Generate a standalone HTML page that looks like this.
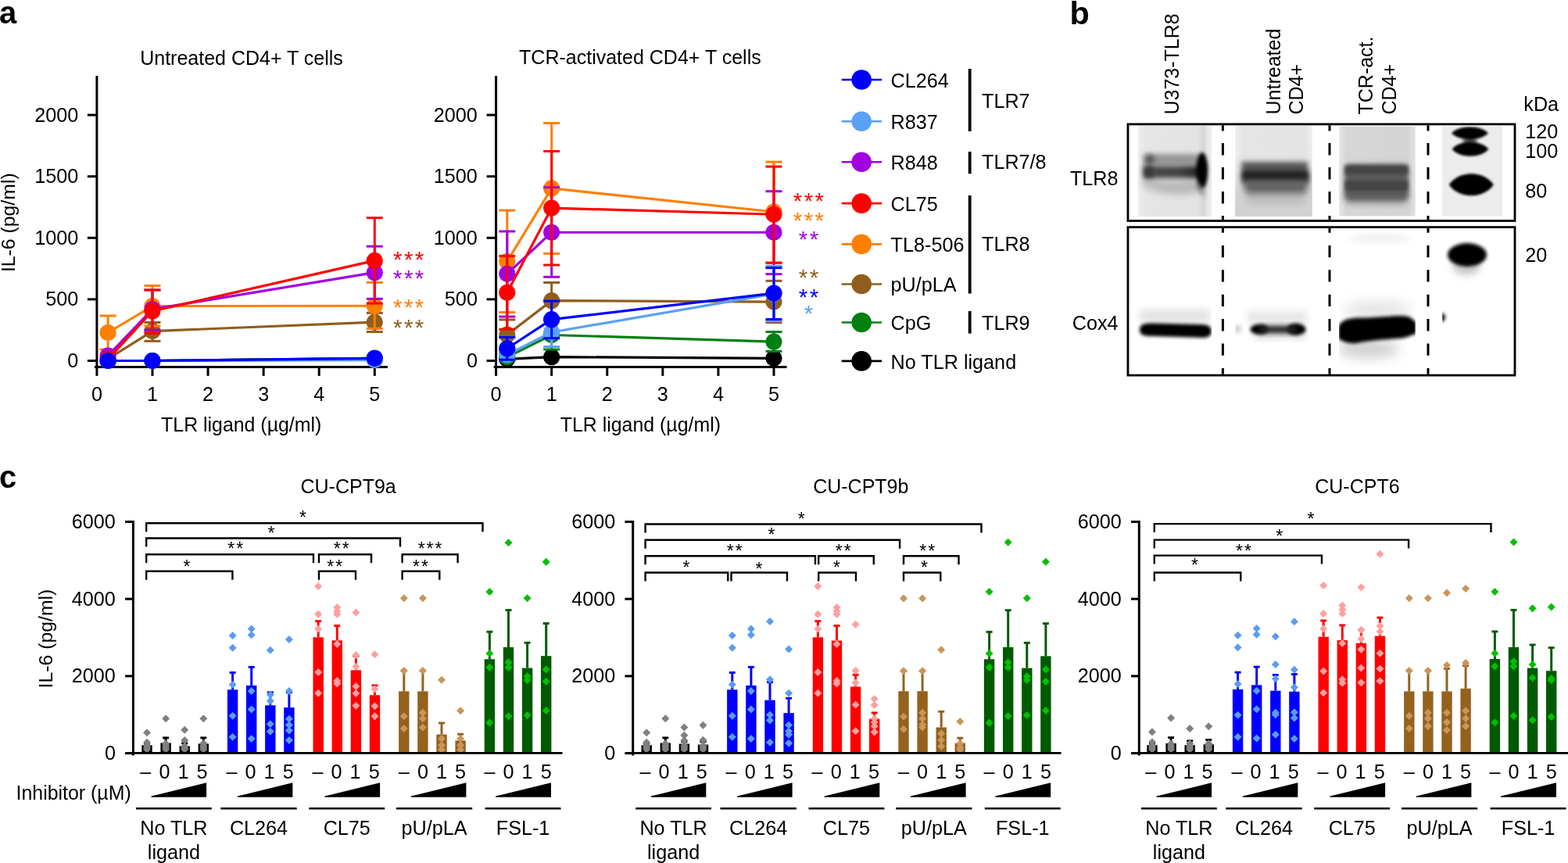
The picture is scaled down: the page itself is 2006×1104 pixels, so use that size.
<!DOCTYPE html>
<html><head><meta charset="utf-8"><title>Figure</title><style>html,body{margin:0;padding:0;background:#fff;width:2006px;height:1104px;overflow:hidden}svg{display:block}</style></head><body>
<svg width="2006" height="1104" viewBox="0 0 2006 1104" font-family="'Liberation Sans', Arial, Helvetica, sans-serif"><defs>
<filter id="bl2" x="-50%" y="-50%" width="200%" height="200%"><feGaussianBlur stdDeviation="2"/></filter>
<filter id="bl15" x="-50%" y="-50%" width="200%" height="200%"><feGaussianBlur stdDeviation="1.5"/></filter>
<filter id="bl3" x="-50%" y="-50%" width="200%" height="200%"><feGaussianBlur stdDeviation="3"/></filter>
<filter id="bl5" x="-50%" y="-50%" width="200%" height="200%"><feGaussianBlur stdDeviation="5"/></filter>
<filter id="bl8" x="-50%" y="-50%" width="200%" height="200%"><feGaussianBlur stdDeviation="8"/></filter>
<clipPath id="cl1"><rect x="1455.8" y="161" width="94.4" height="116"/></clipPath>
<clipPath id="cl2"><rect x="1580.2" y="161" width="98.6" height="116"/></clipPath>
<clipPath id="cl3"><rect x="1713.1" y="161.7" width="97.7" height="114.7"/></clipPath>
<clipPath id="cl4"><rect x="1845.3" y="161.5" width="76.7" height="115"/></clipPath>
<clipPath id="cb1"><rect x="1444.5" y="292" width="105.7" height="186.6"/></clipPath>
<clipPath id="cb2"><rect x="1580.2" y="292" width="98.6" height="186.6"/></clipPath>
<clipPath id="cb3"><rect x="1713.1" y="292" width="97.7" height="186.6"/></clipPath>
<clipPath id="cb4"><rect x="1845.3" y="292" width="76.7" height="186.6"/></clipPath>
<linearGradient id="lg1" x1="0" x2="1" y1="0" y2="0"><stop offset="0" stop-color="#efefef"/><stop offset="0.1" stop-color="#e5e5e5"/><stop offset="0.9" stop-color="#e3e3e3"/><stop offset="1" stop-color="#eeeeee"/></linearGradient>
<linearGradient id="lg3" x1="0" x2="1" y1="0" y2="0"><stop offset="0" stop-color="#e6e6e6"/><stop offset="0.1" stop-color="#d6d6d6"/><stop offset="0.9" stop-color="#d4d4d4"/><stop offset="1" stop-color="#e4e4e4"/></linearGradient>
<linearGradient id="lg2v" x1="0" x2="0" y1="0" y2="1"><stop offset="0" stop-color="#e0e0e0" stop-opacity="0"/><stop offset="0.6" stop-color="#d4d4d4"/><stop offset="1" stop-color="#d0d0d0"/></linearGradient>
<linearGradient id="lg1b" x1="0" x2="1" y1="0" y2="0"><stop offset="0" stop-color="#4a4a4a"/><stop offset="0.6" stop-color="#444"/><stop offset="1" stop-color="#222"/></linearGradient>
<filter id="bl4" x="-50%" y="-50%" width="200%" height="200%"><feGaussianBlur stdDeviation="4"/></filter>
</defs><rect width="2006" height="1104" fill="#fff"/><text x="-1" y="30" font-size="40" font-weight="bold">a</text>
<text x="1368.4" y="30.6" font-size="41.5" font-weight="bold">b</text>
<text x="-1" y="624.2" font-size="40" font-weight="bold">c</text>
<line x1="123.9" y1="97" x2="123.9" y2="470.9" stroke="#000" stroke-width="3" stroke-linecap="butt"/>
<line x1="120.9" y1="469.4" x2="495.9" y2="469.4" stroke="#000" stroke-width="3" stroke-linecap="butt"/>
<line x1="123.9" y1="469.4" x2="123.9" y2="480.9" stroke="#000" stroke-width="3" stroke-linecap="butt"/>
<text x="123.9" y="512.9" font-size="25.2" text-anchor="middle">0</text>
<line x1="194.98" y1="469.4" x2="194.98" y2="480.9" stroke="#000" stroke-width="3" stroke-linecap="butt"/>
<text x="194.98" y="512.9" font-size="25.2" text-anchor="middle">1</text>
<line x1="266.06" y1="469.4" x2="266.06" y2="480.9" stroke="#000" stroke-width="3" stroke-linecap="butt"/>
<text x="266.06" y="512.9" font-size="25.2" text-anchor="middle">2</text>
<line x1="337.14" y1="469.4" x2="337.14" y2="480.9" stroke="#000" stroke-width="3" stroke-linecap="butt"/>
<text x="337.14" y="512.9" font-size="25.2" text-anchor="middle">3</text>
<line x1="408.22" y1="469.4" x2="408.22" y2="480.9" stroke="#000" stroke-width="3" stroke-linecap="butt"/>
<text x="408.22" y="512.9" font-size="25.2" text-anchor="middle">4</text>
<line x1="479.3" y1="469.4" x2="479.3" y2="480.9" stroke="#000" stroke-width="3" stroke-linecap="butt"/>
<text x="479.3" y="512.9" font-size="25.2" text-anchor="middle">5</text>
<line x1="111.9" y1="461.5" x2="123.9" y2="461.5" stroke="#000" stroke-width="3" stroke-linecap="butt"/>
<text x="100.2" y="469.9" font-size="25.2" text-anchor="end">0</text>
<line x1="111.9" y1="382.9" x2="123.9" y2="382.9" stroke="#000" stroke-width="3" stroke-linecap="butt"/>
<text x="100.2" y="391.3" font-size="25.2" text-anchor="end">500</text>
<line x1="111.9" y1="304.3" x2="123.9" y2="304.3" stroke="#000" stroke-width="3" stroke-linecap="butt"/>
<text x="100.2" y="312.7" font-size="25.2" text-anchor="end">1000</text>
<line x1="111.9" y1="225.7" x2="123.9" y2="225.7" stroke="#000" stroke-width="3" stroke-linecap="butt"/>
<text x="100.2" y="234.1" font-size="25.2" text-anchor="end">1500</text>
<line x1="111.9" y1="147.1" x2="123.9" y2="147.1" stroke="#000" stroke-width="3" stroke-linecap="butt"/>
<text x="100.2" y="155.5" font-size="25.2" text-anchor="end">2000</text>
<text x="309" y="82.6" font-size="25" text-anchor="middle">Untreated CD4+ T cells</text>
<text x="308.7" y="551.6" font-size="24.9" text-anchor="middle">TLR ligand (µg/ml)</text>
<polyline points="138.12,461.5 194.98,461.5 479.3,458.36" stroke="#000000" stroke-width="3.2" fill="none" stroke-linejoin="round"/>
<circle cx="138.12" cy="461.5" r="10.6" fill="#000000"/>
<circle cx="194.98" cy="461.5" r="10.6" fill="#000000"/>
<circle cx="479.3" cy="458.36" r="10.6" fill="#000000"/>
<polyline points="138.12,461.5 194.98,461.5 479.3,458.36" stroke="#008010" stroke-width="3.2" fill="none" stroke-linejoin="round"/>
<circle cx="138.12" cy="461.5" r="10.6" fill="#008010"/>
<circle cx="194.98" cy="461.5" r="10.6" fill="#008010"/>
<circle cx="479.3" cy="458.36" r="10.6" fill="#008010"/>
<polyline points="138.12,459.14 194.98,423.61 479.3,412.14" stroke="#8f5e1e" stroke-width="3.2" fill="none" stroke-linejoin="round"/>
<line x1="194.98" y1="412.45" x2="194.98" y2="436.35" stroke="#8f5e1e" stroke-width="3" stroke-linecap="butt"/>
<line x1="184.48" y1="412.45" x2="205.48" y2="412.45" stroke="#8f5e1e" stroke-width="3" stroke-linecap="butt"/>
<line x1="184.48" y1="436.35" x2="205.48" y2="436.35" stroke="#8f5e1e" stroke-width="3" stroke-linecap="butt"/>
<line x1="479.3" y1="400.35" x2="479.3" y2="424.56" stroke="#8f5e1e" stroke-width="3" stroke-linecap="butt"/>
<line x1="468.8" y1="400.35" x2="489.8" y2="400.35" stroke="#8f5e1e" stroke-width="3" stroke-linecap="butt"/>
<line x1="468.8" y1="424.56" x2="489.8" y2="424.56" stroke="#8f5e1e" stroke-width="3" stroke-linecap="butt"/>
<circle cx="138.12" cy="459.14" r="10.6" fill="#8f5e1e"/>
<circle cx="194.98" cy="423.61" r="10.6" fill="#8f5e1e"/>
<circle cx="479.3" cy="412.14" r="10.6" fill="#8f5e1e"/>
<polyline points="138.12,425.5 194.98,391.55 479.3,391.23" stroke="#ff7f00" stroke-width="3.2" fill="none" stroke-linejoin="round"/>
<line x1="138.12" y1="403.96" x2="138.12" y2="447.04" stroke="#ff7f00" stroke-width="3" stroke-linecap="butt"/>
<line x1="127.62" y1="403.96" x2="148.62" y2="403.96" stroke="#ff7f00" stroke-width="3" stroke-linecap="butt"/>
<line x1="127.62" y1="447.04" x2="148.62" y2="447.04" stroke="#ff7f00" stroke-width="3" stroke-linecap="butt"/>
<line x1="194.98" y1="365.45" x2="194.98" y2="417.01" stroke="#ff7f00" stroke-width="3" stroke-linecap="butt"/>
<line x1="184.48" y1="365.45" x2="205.48" y2="365.45" stroke="#ff7f00" stroke-width="3" stroke-linecap="butt"/>
<line x1="184.48" y1="417.01" x2="205.48" y2="417.01" stroke="#ff7f00" stroke-width="3" stroke-linecap="butt"/>
<line x1="479.3" y1="361.36" x2="479.3" y2="420.31" stroke="#ff7f00" stroke-width="3" stroke-linecap="butt"/>
<line x1="468.8" y1="361.36" x2="489.8" y2="361.36" stroke="#ff7f00" stroke-width="3" stroke-linecap="butt"/>
<line x1="468.8" y1="420.31" x2="489.8" y2="420.31" stroke="#ff7f00" stroke-width="3" stroke-linecap="butt"/>
<circle cx="138.12" cy="425.5" r="10.6" fill="#ff7f00"/>
<circle cx="194.98" cy="391.55" r="10.6" fill="#ff7f00"/>
<circle cx="479.3" cy="391.23" r="10.6" fill="#ff7f00"/>
<polyline points="138.12,455.21 194.98,395.48 479.3,348.63" stroke="#a300e0" stroke-width="3.2" fill="none" stroke-linejoin="round"/>
<line x1="194.98" y1="370.95" x2="194.98" y2="422.2" stroke="#a300e0" stroke-width="3" stroke-linecap="butt"/>
<line x1="184.48" y1="370.95" x2="205.48" y2="370.95" stroke="#a300e0" stroke-width="3" stroke-linecap="butt"/>
<line x1="184.48" y1="422.2" x2="205.48" y2="422.2" stroke="#a300e0" stroke-width="3" stroke-linecap="butt"/>
<line x1="479.3" y1="315.15" x2="479.3" y2="382.27" stroke="#a300e0" stroke-width="3" stroke-linecap="butt"/>
<line x1="468.8" y1="315.15" x2="489.8" y2="315.15" stroke="#a300e0" stroke-width="3" stroke-linecap="butt"/>
<line x1="468.8" y1="382.27" x2="489.8" y2="382.27" stroke="#a300e0" stroke-width="3" stroke-linecap="butt"/>
<circle cx="138.12" cy="455.21" r="10.6" fill="#a300e0"/>
<circle cx="194.98" cy="395.48" r="10.6" fill="#a300e0"/>
<circle cx="479.3" cy="348.63" r="10.6" fill="#a300e0"/>
<polyline points="138.12,459.61 194.98,397.99 479.3,333.38" stroke="#ff0000" stroke-width="3.2" fill="none" stroke-linejoin="round"/>
<line x1="194.98" y1="370.95" x2="194.98" y2="426.29" stroke="#ff0000" stroke-width="3" stroke-linecap="butt"/>
<line x1="184.48" y1="370.95" x2="205.48" y2="370.95" stroke="#ff0000" stroke-width="3" stroke-linecap="butt"/>
<line x1="184.48" y1="426.29" x2="205.48" y2="426.29" stroke="#ff0000" stroke-width="3" stroke-linecap="butt"/>
<line x1="479.3" y1="278.68" x2="479.3" y2="388.09" stroke="#ff0000" stroke-width="3" stroke-linecap="butt"/>
<line x1="468.8" y1="278.68" x2="489.8" y2="278.68" stroke="#ff0000" stroke-width="3" stroke-linecap="butt"/>
<line x1="468.8" y1="388.09" x2="489.8" y2="388.09" stroke="#ff0000" stroke-width="3" stroke-linecap="butt"/>
<circle cx="138.12" cy="459.61" r="10.6" fill="#ff0000"/>
<circle cx="194.98" cy="397.99" r="10.6" fill="#ff0000"/>
<circle cx="479.3" cy="333.38" r="10.6" fill="#ff0000"/>
<polyline points="138.12,461.5 194.98,461.5 479.3,460.56" stroke="#5aa0f5" stroke-width="3.2" fill="none" stroke-linejoin="round"/>
<circle cx="138.12" cy="461.5" r="10.6" fill="#5aa0f5"/>
<circle cx="194.98" cy="461.5" r="10.6" fill="#5aa0f5"/>
<circle cx="479.3" cy="460.56" r="10.6" fill="#5aa0f5"/>
<polyline points="138.12,461.5 194.98,461.5 479.3,458.36" stroke="#0000ff" stroke-width="3.2" fill="none" stroke-linejoin="round"/>
<circle cx="138.12" cy="461.5" r="10.6" fill="#0000ff"/>
<circle cx="194.98" cy="461.5" r="10.6" fill="#0000ff"/>
<circle cx="479.3" cy="458.36" r="10.6" fill="#0000ff"/>
<line x1="634.6" y1="97" x2="634.6" y2="470.9" stroke="#000" stroke-width="3" stroke-linecap="butt"/>
<line x1="631.6" y1="469.4" x2="1006.6" y2="469.4" stroke="#000" stroke-width="3" stroke-linecap="butt"/>
<line x1="634.6" y1="469.4" x2="634.6" y2="480.9" stroke="#000" stroke-width="3" stroke-linecap="butt"/>
<text x="634.6" y="512.9" font-size="25.2" text-anchor="middle">0</text>
<line x1="705.68" y1="469.4" x2="705.68" y2="480.9" stroke="#000" stroke-width="3" stroke-linecap="butt"/>
<text x="705.68" y="512.9" font-size="25.2" text-anchor="middle">1</text>
<line x1="776.76" y1="469.4" x2="776.76" y2="480.9" stroke="#000" stroke-width="3" stroke-linecap="butt"/>
<text x="776.76" y="512.9" font-size="25.2" text-anchor="middle">2</text>
<line x1="847.84" y1="469.4" x2="847.84" y2="480.9" stroke="#000" stroke-width="3" stroke-linecap="butt"/>
<text x="847.84" y="512.9" font-size="25.2" text-anchor="middle">3</text>
<line x1="918.92" y1="469.4" x2="918.92" y2="480.9" stroke="#000" stroke-width="3" stroke-linecap="butt"/>
<text x="918.92" y="512.9" font-size="25.2" text-anchor="middle">4</text>
<line x1="990" y1="469.4" x2="990" y2="480.9" stroke="#000" stroke-width="3" stroke-linecap="butt"/>
<text x="990" y="512.9" font-size="25.2" text-anchor="middle">5</text>
<line x1="622.6" y1="461.5" x2="634.6" y2="461.5" stroke="#000" stroke-width="3" stroke-linecap="butt"/>
<text x="610.9" y="469.9" font-size="25.2" text-anchor="end">0</text>
<line x1="622.6" y1="382.9" x2="634.6" y2="382.9" stroke="#000" stroke-width="3" stroke-linecap="butt"/>
<text x="610.9" y="391.3" font-size="25.2" text-anchor="end">500</text>
<line x1="622.6" y1="304.3" x2="634.6" y2="304.3" stroke="#000" stroke-width="3" stroke-linecap="butt"/>
<text x="610.9" y="312.7" font-size="25.2" text-anchor="end">1000</text>
<line x1="622.6" y1="225.7" x2="634.6" y2="225.7" stroke="#000" stroke-width="3" stroke-linecap="butt"/>
<text x="610.9" y="234.1" font-size="25.2" text-anchor="end">1500</text>
<line x1="622.6" y1="147.1" x2="634.6" y2="147.1" stroke="#000" stroke-width="3" stroke-linecap="butt"/>
<text x="610.9" y="155.5" font-size="25.2" text-anchor="end">2000</text>
<text x="818.9" y="81.5" font-size="25" text-anchor="middle">TCR-activated CD4+ T cells</text>
<text x="819.4" y="551.6" font-size="24.9" text-anchor="middle">TLR ligand (µg/ml)</text>
<polyline points="648.82,459.3 705.68,456.63 990,458.36" stroke="#000000" stroke-width="3.2" fill="none" stroke-linejoin="round"/>
<circle cx="648.82" cy="459.3" r="10.6" fill="#000000"/>
<circle cx="705.68" cy="456.63" r="10.6" fill="#000000"/>
<circle cx="990" cy="458.36" r="10.6" fill="#000000"/>
<polyline points="648.82,456.78 705.68,428.49 990,437.13" stroke="#008010" stroke-width="3.2" fill="none" stroke-linejoin="round"/>
<line x1="648.82" y1="452.07" x2="648.82" y2="460.71" stroke="#008010" stroke-width="3" stroke-linecap="butt"/>
<line x1="638.32" y1="452.07" x2="659.32" y2="452.07" stroke="#008010" stroke-width="3" stroke-linecap="butt"/>
<line x1="638.32" y1="460.71" x2="659.32" y2="460.71" stroke="#008010" stroke-width="3" stroke-linecap="butt"/>
<line x1="705.68" y1="409.62" x2="705.68" y2="447.04" stroke="#008010" stroke-width="3" stroke-linecap="butt"/>
<line x1="695.18" y1="409.62" x2="716.18" y2="409.62" stroke="#008010" stroke-width="3" stroke-linecap="butt"/>
<line x1="695.18" y1="447.04" x2="716.18" y2="447.04" stroke="#008010" stroke-width="3" stroke-linecap="butt"/>
<line x1="990" y1="424.56" x2="990" y2="449.4" stroke="#008010" stroke-width="3" stroke-linecap="butt"/>
<line x1="979.5" y1="424.56" x2="1000.5" y2="424.56" stroke="#008010" stroke-width="3" stroke-linecap="butt"/>
<line x1="979.5" y1="449.4" x2="1000.5" y2="449.4" stroke="#008010" stroke-width="3" stroke-linecap="butt"/>
<circle cx="648.82" cy="456.78" r="10.6" fill="#008010"/>
<circle cx="705.68" cy="428.49" r="10.6" fill="#008010"/>
<circle cx="990" cy="437.13" r="10.6" fill="#008010"/>
<polyline points="648.82,428.17 705.68,384.63 990,386.04" stroke="#8f5e1e" stroke-width="3.2" fill="none" stroke-linejoin="round"/>
<line x1="648.82" y1="409" x2="648.82" y2="447.35" stroke="#8f5e1e" stroke-width="3" stroke-linecap="butt"/>
<line x1="638.32" y1="409" x2="659.32" y2="409" stroke="#8f5e1e" stroke-width="3" stroke-linecap="butt"/>
<line x1="638.32" y1="447.35" x2="659.32" y2="447.35" stroke="#8f5e1e" stroke-width="3" stroke-linecap="butt"/>
<line x1="705.68" y1="361.52" x2="705.68" y2="407.74" stroke="#8f5e1e" stroke-width="3" stroke-linecap="butt"/>
<line x1="695.18" y1="361.52" x2="716.18" y2="361.52" stroke="#8f5e1e" stroke-width="3" stroke-linecap="butt"/>
<line x1="695.18" y1="407.74" x2="716.18" y2="407.74" stroke="#8f5e1e" stroke-width="3" stroke-linecap="butt"/>
<line x1="990" y1="359.32" x2="990" y2="412.61" stroke="#8f5e1e" stroke-width="3" stroke-linecap="butt"/>
<line x1="979.5" y1="359.32" x2="1000.5" y2="359.32" stroke="#8f5e1e" stroke-width="3" stroke-linecap="butt"/>
<line x1="979.5" y1="412.61" x2="1000.5" y2="412.61" stroke="#8f5e1e" stroke-width="3" stroke-linecap="butt"/>
<circle cx="648.82" cy="428.17" r="10.6" fill="#8f5e1e"/>
<circle cx="705.68" cy="384.63" r="10.6" fill="#8f5e1e"/>
<circle cx="990" cy="386.04" r="10.6" fill="#8f5e1e"/>
<polyline points="648.82,334.33 705.68,240.95 990,270.97" stroke="#ff7f00" stroke-width="3.2" fill="none" stroke-linejoin="round"/>
<line x1="648.82" y1="269.09" x2="648.82" y2="399.56" stroke="#ff7f00" stroke-width="3" stroke-linecap="butt"/>
<line x1="638.32" y1="269.09" x2="659.32" y2="269.09" stroke="#ff7f00" stroke-width="3" stroke-linecap="butt"/>
<line x1="638.32" y1="399.56" x2="659.32" y2="399.56" stroke="#ff7f00" stroke-width="3" stroke-linecap="butt"/>
<line x1="705.68" y1="157.48" x2="705.68" y2="324.42" stroke="#ff7f00" stroke-width="3" stroke-linecap="butt"/>
<line x1="695.18" y1="157.48" x2="716.18" y2="157.48" stroke="#ff7f00" stroke-width="3" stroke-linecap="butt"/>
<line x1="695.18" y1="324.42" x2="716.18" y2="324.42" stroke="#ff7f00" stroke-width="3" stroke-linecap="butt"/>
<line x1="990" y1="207.15" x2="990" y2="336.21" stroke="#ff7f00" stroke-width="3" stroke-linecap="butt"/>
<line x1="979.5" y1="207.15" x2="1000.5" y2="207.15" stroke="#ff7f00" stroke-width="3" stroke-linecap="butt"/>
<line x1="979.5" y1="336.21" x2="1000.5" y2="336.21" stroke="#ff7f00" stroke-width="3" stroke-linecap="butt"/>
<circle cx="648.82" cy="334.33" r="10.6" fill="#ff7f00"/>
<circle cx="705.68" cy="240.95" r="10.6" fill="#ff7f00"/>
<circle cx="990" cy="270.97" r="10.6" fill="#ff7f00"/>
<polyline points="648.82,350.36 705.68,297.23 990,297.23" stroke="#a300e0" stroke-width="3.2" fill="none" stroke-linejoin="round"/>
<line x1="648.82" y1="295.97" x2="648.82" y2="405.07" stroke="#a300e0" stroke-width="3" stroke-linecap="butt"/>
<line x1="638.32" y1="295.97" x2="659.32" y2="295.97" stroke="#a300e0" stroke-width="3" stroke-linecap="butt"/>
<line x1="638.32" y1="405.07" x2="659.32" y2="405.07" stroke="#a300e0" stroke-width="3" stroke-linecap="butt"/>
<line x1="705.68" y1="239.69" x2="705.68" y2="354.29" stroke="#a300e0" stroke-width="3" stroke-linecap="butt"/>
<line x1="695.18" y1="239.69" x2="716.18" y2="239.69" stroke="#a300e0" stroke-width="3" stroke-linecap="butt"/>
<line x1="695.18" y1="354.29" x2="716.18" y2="354.29" stroke="#a300e0" stroke-width="3" stroke-linecap="butt"/>
<line x1="990" y1="244.72" x2="990" y2="350.67" stroke="#a300e0" stroke-width="3" stroke-linecap="butt"/>
<line x1="979.5" y1="244.72" x2="1000.5" y2="244.72" stroke="#a300e0" stroke-width="3" stroke-linecap="butt"/>
<line x1="979.5" y1="350.67" x2="1000.5" y2="350.67" stroke="#a300e0" stroke-width="3" stroke-linecap="butt"/>
<circle cx="648.82" cy="350.36" r="10.6" fill="#a300e0"/>
<circle cx="705.68" cy="297.23" r="10.6" fill="#a300e0"/>
<circle cx="990" cy="297.23" r="10.6" fill="#a300e0"/>
<polyline points="648.82,374.25 705.68,266.1 990,274.27" stroke="#ff0000" stroke-width="3.2" fill="none" stroke-linejoin="round"/>
<line x1="648.82" y1="327.57" x2="648.82" y2="421.26" stroke="#ff0000" stroke-width="3" stroke-linecap="butt"/>
<line x1="638.32" y1="327.57" x2="659.32" y2="327.57" stroke="#ff0000" stroke-width="3" stroke-linecap="butt"/>
<line x1="638.32" y1="421.26" x2="659.32" y2="421.26" stroke="#ff0000" stroke-width="3" stroke-linecap="butt"/>
<line x1="705.68" y1="193.47" x2="705.68" y2="339.04" stroke="#ff0000" stroke-width="3" stroke-linecap="butt"/>
<line x1="695.18" y1="193.47" x2="716.18" y2="193.47" stroke="#ff0000" stroke-width="3" stroke-linecap="butt"/>
<line x1="695.18" y1="339.04" x2="716.18" y2="339.04" stroke="#ff0000" stroke-width="3" stroke-linecap="butt"/>
<line x1="990" y1="213.12" x2="990" y2="336.21" stroke="#ff0000" stroke-width="3" stroke-linecap="butt"/>
<line x1="979.5" y1="213.12" x2="1000.5" y2="213.12" stroke="#ff0000" stroke-width="3" stroke-linecap="butt"/>
<line x1="979.5" y1="336.21" x2="1000.5" y2="336.21" stroke="#ff0000" stroke-width="3" stroke-linecap="butt"/>
<circle cx="648.82" cy="374.25" r="10.6" fill="#ff0000"/>
<circle cx="705.68" cy="266.1" r="10.6" fill="#ff0000"/>
<circle cx="990" cy="274.27" r="10.6" fill="#ff0000"/>
<polyline points="648.82,453.95 705.68,425.03 990,375.83" stroke="#5aa0f5" stroke-width="3.2" fill="none" stroke-linejoin="round"/>
<line x1="648.82" y1="446.41" x2="648.82" y2="460.71" stroke="#5aa0f5" stroke-width="3" stroke-linecap="butt"/>
<line x1="638.32" y1="446.41" x2="659.32" y2="446.41" stroke="#5aa0f5" stroke-width="3" stroke-linecap="butt"/>
<line x1="638.32" y1="460.71" x2="659.32" y2="460.71" stroke="#5aa0f5" stroke-width="3" stroke-linecap="butt"/>
<line x1="705.68" y1="406.48" x2="705.68" y2="443.58" stroke="#5aa0f5" stroke-width="3" stroke-linecap="butt"/>
<line x1="695.18" y1="406.48" x2="716.18" y2="406.48" stroke="#5aa0f5" stroke-width="3" stroke-linecap="butt"/>
<line x1="695.18" y1="443.58" x2="716.18" y2="443.58" stroke="#5aa0f5" stroke-width="3" stroke-linecap="butt"/>
<line x1="990" y1="340.3" x2="990" y2="410.57" stroke="#5aa0f5" stroke-width="3" stroke-linecap="butt"/>
<line x1="979.5" y1="340.3" x2="1000.5" y2="340.3" stroke="#5aa0f5" stroke-width="3" stroke-linecap="butt"/>
<line x1="979.5" y1="410.57" x2="1000.5" y2="410.57" stroke="#5aa0f5" stroke-width="3" stroke-linecap="butt"/>
<circle cx="648.82" cy="453.95" r="10.6" fill="#5aa0f5"/>
<circle cx="705.68" cy="425.03" r="10.6" fill="#5aa0f5"/>
<circle cx="990" cy="375.83" r="10.6" fill="#5aa0f5"/>
<polyline points="648.82,445.78 705.68,408.68 990,375.04" stroke="#0000ff" stroke-width="3.2" fill="none" stroke-linejoin="round"/>
<line x1="648.82" y1="431.47" x2="648.82" y2="460.24" stroke="#0000ff" stroke-width="3" stroke-linecap="butt"/>
<line x1="638.32" y1="431.47" x2="659.32" y2="431.47" stroke="#0000ff" stroke-width="3" stroke-linecap="butt"/>
<line x1="638.32" y1="460.24" x2="659.32" y2="460.24" stroke="#0000ff" stroke-width="3" stroke-linecap="butt"/>
<line x1="705.68" y1="385.1" x2="705.68" y2="432.73" stroke="#0000ff" stroke-width="3" stroke-linecap="butt"/>
<line x1="695.18" y1="385.1" x2="716.18" y2="385.1" stroke="#0000ff" stroke-width="3" stroke-linecap="butt"/>
<line x1="695.18" y1="432.73" x2="716.18" y2="432.73" stroke="#0000ff" stroke-width="3" stroke-linecap="butt"/>
<line x1="990" y1="342.66" x2="990" y2="408.52" stroke="#0000ff" stroke-width="3" stroke-linecap="butt"/>
<line x1="979.5" y1="342.66" x2="1000.5" y2="342.66" stroke="#0000ff" stroke-width="3" stroke-linecap="butt"/>
<line x1="979.5" y1="408.52" x2="1000.5" y2="408.52" stroke="#0000ff" stroke-width="3" stroke-linecap="butt"/>
<circle cx="648.82" cy="445.78" r="10.6" fill="#0000ff"/>
<circle cx="705.68" cy="408.68" r="10.6" fill="#0000ff"/>
<circle cx="990" cy="375.04" r="10.6" fill="#0000ff"/>
<text transform="translate(18.9,284.7) rotate(-90)" font-size="24.8" text-anchor="middle">IL-6 (pg/ml)</text>
<text x="523.9" y="342.2" font-size="29.5" text-anchor="middle" fill="#ff0000" letter-spacing="2.4">***</text>
<text x="523.9" y="366.1" font-size="29.5" text-anchor="middle" fill="#a300e0" letter-spacing="2.4">***</text>
<text x="523.9" y="403.2" font-size="29.5" text-anchor="middle" fill="#ff7f00" letter-spacing="2.4">***</text>
<text x="523.9" y="428.8" font-size="29.5" text-anchor="middle" fill="#8f5e1e" letter-spacing="2.4">***</text>
<text x="1035.7" y="267.2" font-size="29.5" text-anchor="middle" fill="#ff0000" letter-spacing="2.4">***</text>
<text x="1035.7" y="291.6" font-size="29.5" text-anchor="middle" fill="#ff7f00" letter-spacing="2.4">***</text>
<text x="1035.7" y="315.7" font-size="29.5" text-anchor="middle" fill="#a300e0" letter-spacing="2.4">**</text>
<text x="1035.7" y="365.4" font-size="29.5" text-anchor="middle" fill="#8f5e1e" letter-spacing="2.4">**</text>
<text x="1035.7" y="389.8" font-size="29.5" text-anchor="middle" fill="#0000ff" letter-spacing="2.4">**</text>
<text x="1035.7" y="411.3" font-size="29.5" text-anchor="middle" fill="#5aa0f5" letter-spacing="2.4">*</text>
<line x1="1076.7" y1="102" x2="1128.1" y2="102" stroke="#0000ff" stroke-width="2.6" stroke-linecap="butt"/>
<circle cx="1102.2" cy="102" r="12.8" fill="#0000ff"/>
<text x="1139.6" y="111.8" font-size="25.2">CL264</text>
<line x1="1076.7" y1="155.2" x2="1128.1" y2="155.2" stroke="#5aa0f5" stroke-width="2.6" stroke-linecap="butt"/>
<circle cx="1102.2" cy="155.2" r="12.8" fill="#5aa0f5"/>
<text x="1139.6" y="165" font-size="25.2">R837</text>
<line x1="1076.7" y1="207.3" x2="1128.1" y2="207.3" stroke="#a300e0" stroke-width="2.6" stroke-linecap="butt"/>
<circle cx="1102.2" cy="207.3" r="12.8" fill="#a300e0"/>
<text x="1139.6" y="217.1" font-size="25.2">R848</text>
<line x1="1076.7" y1="260.1" x2="1128.1" y2="260.1" stroke="#ff0000" stroke-width="2.6" stroke-linecap="butt"/>
<circle cx="1102.2" cy="260.1" r="12.8" fill="#ff0000"/>
<text x="1139.6" y="269.9" font-size="25.2">CL75</text>
<line x1="1076.7" y1="312.4" x2="1128.1" y2="312.4" stroke="#ff7f00" stroke-width="2.6" stroke-linecap="butt"/>
<circle cx="1102.2" cy="312.4" r="12.8" fill="#ff7f00"/>
<text x="1139.6" y="322.2" font-size="25.2">TL8-506</text>
<line x1="1076.7" y1="363.5" x2="1128.1" y2="363.5" stroke="#8f5e1e" stroke-width="2.6" stroke-linecap="butt"/>
<circle cx="1102.2" cy="363.5" r="12.8" fill="#8f5e1e"/>
<text x="1139.6" y="373.3" font-size="25.2">pU/pLA</text>
<line x1="1076.7" y1="412.5" x2="1128.1" y2="412.5" stroke="#008010" stroke-width="2.6" stroke-linecap="butt"/>
<circle cx="1102.2" cy="412.5" r="12.8" fill="#008010"/>
<text x="1139.6" y="422.3" font-size="25.2">CpG</text>
<line x1="1076.7" y1="461.9" x2="1128.1" y2="461.9" stroke="#000000" stroke-width="2.6" stroke-linecap="butt"/>
<circle cx="1102.2" cy="461.9" r="12.8" fill="#000000"/>
<text x="1139.6" y="471.7" font-size="25.2">No TLR ligand</text>
<line x1="1240.7" y1="88" x2="1240.7" y2="168" stroke="#000" stroke-width="3.8" stroke-linecap="butt"/>
<line x1="1240.7" y1="194" x2="1240.7" y2="222.2" stroke="#000" stroke-width="3.8" stroke-linecap="butt"/>
<line x1="1240.7" y1="250" x2="1240.7" y2="375.5" stroke="#000" stroke-width="3.8" stroke-linecap="butt"/>
<line x1="1240.7" y1="397.9" x2="1240.7" y2="426.6" stroke="#000" stroke-width="3.8" stroke-linecap="butt"/>
<text x="1256" y="137.5" font-size="25.2">TLR7</text>
<text x="1256" y="216.1" font-size="25.2">TLR7/8</text>
<text x="1256" y="321.4" font-size="25.2">TLR8</text>
<text x="1256" y="421.9" font-size="25.2">TLR9</text>
<rect x="1455.8" y="161" width="94.4" height="116" fill="url(#lg1)"/>
<rect x="1580.2" y="161" width="98.6" height="116" fill="url(#lg1)"/>
<rect x="1713.1" y="161.7" width="97.7" height="114.7" fill="url(#lg3)"/>
<rect x="1845.3" y="161.5" width="76.7" height="115" fill="#ececec"/>
<g clip-path="url(#cl1)"><rect x="1536" y="161" width="6" height="116" fill="#d4d4d4" filter="url(#bl2)"/><path d="M1462,226 Q1500,238 1540,226 L1542,242 Q1500,258 1462,238 Z" fill="#b8b8b8" filter="url(#bl5)"/><rect x="1463" y="197" width="72" height="15" fill="#959595" filter="url(#bl3)"/><rect x="1463" y="212" width="74" height="16" fill="url(#lg1b)" filter="url(#bl3)"/><ellipse cx="1471" cy="204" rx="6" ry="6" fill="#555" filter="url(#bl3)"/><ellipse cx="1470" cy="220" rx="7" ry="7.5" fill="#3a3a3a" filter="url(#bl3)"/><ellipse cx="1537.8" cy="218" rx="7.5" ry="23" fill="#000" filter="url(#bl2)"/><path d="M1533,232 Q1540,244 1541,252 Q1536,248 1531,238 Z" fill="#666" filter="url(#bl3)"/></g>
<g clip-path="url(#cl2)"><rect x="1580" y="200" width="99" height="77" fill="url(#lg2v)"/><path d="M1592,240 L1672,240 L1668,262 L1596,262 Z" fill="#bcbcbc" filter="url(#bl5)"/><path d="M1588,207 L1673,207 L1674,236 L1590,236 Z" fill="#565656" filter="url(#bl3)"/><rect x="1589" y="219" width="85" height="12" fill="#1e1e1e" filter="url(#bl3)"/><path d="M1590,231 L1673,231 L1671,247 L1594,247 Z" fill="#5e5e5e" filter="url(#bl4)"/></g>
<g clip-path="url(#cl3)"><rect x="1722" y="245" width="78" height="16" fill="#9a9a9a" filter="url(#bl5)"/><rect x="1720" y="210" width="82" height="46" rx="6" fill="#5a5a5a" filter="url(#bl3)"/><rect x="1721" y="212" width="80" height="11" fill="#444" filter="url(#bl2)"/><rect x="1721" y="231" width="80" height="13" fill="#444" filter="url(#bl2)"/></g>
<g clip-path="url(#cl4)"><ellipse cx="1880.5" cy="180.5" rx="9" ry="5" fill="#444" filter="url(#bl2)"/><path d="M1857,170.3 C1867.34,159.63 1893.66,159.63 1904,170.3 C1893.66,180.97 1867.34,180.97 1857,170.3 Z" fill="#000" filter="url(#bl15)"/><path d="M1857.5,190.8 C1867.84,178.79 1894.16,178.79 1904.5,190.8 C1894.16,202.81 1867.84,202.81 1857.5,190.8 Z" fill="#000" filter="url(#bl15)"/><path d="M1853.8,236.3 C1866.34,217.62 1898.26,217.62 1910.8,236.3 C1898.26,254.98 1866.34,254.98 1853.8,236.3 Z" fill="#000" filter="url(#bl15)"/></g>
<g clip-path="url(#cb1)"><rect x="1458" y="396" width="90" height="16" fill="#e2e2e2" filter="url(#bl5)"/><path d="M1458,422 C1458,414.5 1464,413.5 1475,413.5 L1535,415 C1546,415 1550,418 1550,423.5 C1550,429.5 1546,432 1538,432 L1475,430 C1463,430 1458,428.5 1458,422 Z" fill="#000" filter="url(#bl2)"/></g>
<g clip-path="url(#cb2)"><rect x="1596" y="398" width="76" height="16" fill="#e6e6e6" filter="url(#bl5)"/><rect x="1604" y="426" width="66" height="8" fill="#e0e0e0" filter="url(#bl4)"/><ellipse cx="1611" cy="421.3" rx="11.5" ry="6.5" fill="#000" filter="url(#bl2)"/><ellipse cx="1658.5" cy="421.3" rx="12" ry="7.5" fill="#000" filter="url(#bl2)"/><rect x="1612" y="416.5" width="46" height="10" fill="#222" filter="url(#bl3)"/><ellipse cx="1583" cy="421" rx="5" ry="5" fill="#c8c8c8" filter="url(#bl3)"/></g>
<g clip-path="url(#cb3)"><ellipse cx="1762" cy="396" rx="45" ry="11" fill="#e4e4e4" filter="url(#bl8)"/><ellipse cx="1750" cy="446" rx="40" ry="12" fill="#cfcfcf" filter="url(#bl8)"/><path d="M1712,418 C1716,410 1722,407 1740,406.5 C1765,406 1785,403 1800,404.5 C1806,406 1808,410 1812,412 L1812,427 C1806,428 1802,432 1790,433 C1770,434 1750,436 1735,439 C1725,440 1718,437 1712,433 Z" fill="#000" filter="url(#bl2)"/><ellipse cx="1765" cy="305" rx="40" ry="6" fill="#f2f2f2" filter="url(#bl3)"/></g>
<g clip-path="url(#cb4)"><ellipse cx="1876" cy="340" rx="18" ry="12" fill="#c8c8c8" filter="url(#bl5)"/><ellipse cx="1877" cy="326" rx="25" ry="15" fill="#000" filter="url(#bl2)"/><ellipse cx="1842" cy="406" rx="7" ry="6" fill="#000" filter="url(#bl2)"/></g>
<rect x="1443" y="158.9" width="495" height="123.6" fill="none" stroke="#000" stroke-width="2.8"/>
<rect x="1443" y="290.6" width="495" height="189.5" fill="none" stroke="#000" stroke-width="2.8"/>
<line x1="1564.4" y1="160.3" x2="1564.4" y2="281.1" stroke="#000" stroke-width="3" stroke-dasharray="15.4 15.6" stroke-dashoffset="8.3"/>
<line x1="1564.4" y1="292" x2="1564.4" y2="478.7" stroke="#000" stroke-width="3" stroke-dasharray="15.3 16.1" stroke-dashoffset="9.5"/>
<line x1="1701" y1="160.3" x2="1701" y2="281.1" stroke="#000" stroke-width="3" stroke-dasharray="15.4 15.6" stroke-dashoffset="8.3"/>
<line x1="1701" y1="292" x2="1701" y2="478.7" stroke="#000" stroke-width="3" stroke-dasharray="15.3 16.1" stroke-dashoffset="9.5"/>
<line x1="1827" y1="160.3" x2="1827" y2="281.1" stroke="#000" stroke-width="3" stroke-dasharray="15.4 15.6" stroke-dashoffset="8.3"/>
<line x1="1827" y1="292" x2="1827" y2="478.7" stroke="#000" stroke-width="3" stroke-dasharray="15.3 16.1" stroke-dashoffset="9.5"/>
<text transform="translate(1508.3,146.5) rotate(-90)" font-size="25">U373-TLR8</text>
<text transform="translate(1637.8,146.5) rotate(-90)" font-size="25">Untreated</text>
<text transform="translate(1667.3,146.5) rotate(-90)" font-size="25">CD4+</text>
<text transform="translate(1756.1,146.5) rotate(-90)" font-size="25">TCR-act.</text>
<text transform="translate(1786,146.5) rotate(-90)" font-size="25">CD4+</text>
<text x="1949.3" y="142.2" font-size="25.2">kDa</text>
<text x="1951.2" y="176.5" font-size="25.2">120</text>
<text x="1951.2" y="202" font-size="25.2">100</text>
<text x="1951.2" y="252.5" font-size="25.2">80</text>
<text x="1951.2" y="334.7" font-size="25.2">20</text>
<text x="1430.5" y="237.4" font-size="25.2" text-anchor="end">TLR8</text>
<text x="1430.5" y="422.2" font-size="25.2" text-anchor="end">Cox4</text>
<line x1="188" y1="951.26" x2="188" y2="953.24" stroke="#000000" stroke-width="3" stroke-linecap="butt"/>
<line x1="184" y1="951.26" x2="192" y2="951.26" stroke="#000000" stroke-width="2.9" stroke-linecap="butt"/>
<rect x="181.3" y="953.24" width="13.4" height="10.36" fill="#000000" />
<polygon points="188,932.25 193,937.25 188,942.25 183,937.25" fill="#808080"/>
<polygon points="188,944.73 193,949.73 188,954.73 183,949.73" fill="#808080"/>
<polygon points="188,948.73 193,953.73 188,958.73 183,953.73" fill="#808080"/>
<polygon points="188,951.2 193,956.2 188,961.2 183,956.2" fill="#808080"/>
<polygon points="188,953.67 193,958.67 188,963.67 183,958.67" fill="#808080"/>
<line x1="212.1" y1="943.86" x2="212.1" y2="950.42" stroke="#000000" stroke-width="3" stroke-linecap="butt"/>
<line x1="208.1" y1="943.86" x2="216.1" y2="943.86" stroke="#000000" stroke-width="2.9" stroke-linecap="butt"/>
<rect x="205.4" y="950.42" width="13.4" height="13.18" fill="#000000" />
<polygon points="212.1,914.19 217.1,919.19 212.1,924.19 207.1,919.19" fill="#808080"/>
<polygon points="212.1,946.26 217.1,951.26 212.1,956.26 207.1,951.26" fill="#808080"/>
<polygon points="212.1,948.73 217.1,953.73 212.1,958.73 207.1,953.73" fill="#808080"/>
<polygon points="212.1,951.2 217.1,956.2 212.1,961.2 207.1,956.2" fill="#808080"/>
<polygon points="212.1,953.67 217.1,958.67 212.1,963.67 207.1,958.67" fill="#808080"/>
<line x1="236.2" y1="950.77" x2="236.2" y2="954.42" stroke="#000000" stroke-width="3" stroke-linecap="butt"/>
<line x1="232.2" y1="950.77" x2="240.2" y2="950.77" stroke="#000000" stroke-width="2.9" stroke-linecap="butt"/>
<rect x="229.5" y="954.42" width="13.4" height="9.18" fill="#000000" />
<polygon points="236.2,928.74 241.2,933.74 236.2,938.74 231.2,933.74" fill="#808080"/>
<polygon points="236.2,941.92 241.2,946.92 236.2,951.92 231.2,946.92" fill="#808080"/>
<polygon points="236.2,949.72 241.2,954.72 236.2,959.72 231.2,954.72" fill="#808080"/>
<polygon points="236.2,952.18 241.2,957.18 236.2,962.18 231.2,957.18" fill="#808080"/>
<polygon points="236.2,953.67 241.2,958.67 236.2,963.67 231.2,958.67" fill="#808080"/>
<line x1="260.3" y1="943.86" x2="260.3" y2="951.41" stroke="#000000" stroke-width="3" stroke-linecap="butt"/>
<line x1="256.3" y1="943.86" x2="264.3" y2="943.86" stroke="#000000" stroke-width="2.9" stroke-linecap="butt"/>
<rect x="253.6" y="951.41" width="13.4" height="12.19" fill="#000000" />
<polygon points="260.3,914.19 265.3,919.19 260.3,924.19 255.3,919.19" fill="#808080"/>
<polygon points="260.3,945.92 265.3,950.92 260.3,955.92 255.3,950.92" fill="#808080"/>
<polygon points="260.3,948.73 265.3,953.73 260.3,958.73 255.3,953.73" fill="#808080"/>
<polygon points="260.3,951.2 265.3,956.2 260.3,961.2 255.3,956.2" fill="#808080"/>
<polygon points="260.3,953.67 265.3,958.67 260.3,963.67 255.3,958.67" fill="#808080"/>
<line x1="297.6" y1="860.41" x2="297.6" y2="882.27" stroke="#0000ff" stroke-width="3" stroke-linecap="butt"/>
<line x1="293.6" y1="860.41" x2="301.6" y2="860.41" stroke="#0000ff" stroke-width="2.9" stroke-linecap="butt"/>
<rect x="290.9" y="882.27" width="13.4" height="81.33" fill="#0000ff" />
<polygon points="297.6,807.93 302.6,812.93 297.6,817.93 292.6,812.93" fill="#5a9cf0"/>
<polygon points="297.6,823.68 302.6,828.68 297.6,833.68 292.6,828.68" fill="#5a9cf0"/>
<polygon points="297.6,870.66 302.6,875.66 297.6,880.66 292.6,875.66" fill="#5a9cf0"/>
<polygon points="297.6,910.68 302.6,915.68 297.6,920.68 292.6,915.68" fill="#5a9cf0"/>
<polygon points="297.6,937.63 302.6,942.63 297.6,947.63 292.6,942.63" fill="#5a9cf0"/>
<line x1="321.7" y1="853.35" x2="321.7" y2="876.89" stroke="#0000ff" stroke-width="3" stroke-linecap="butt"/>
<line x1="317.7" y1="853.35" x2="325.7" y2="853.35" stroke="#0000ff" stroke-width="2.9" stroke-linecap="butt"/>
<rect x="315" y="876.89" width="13.4" height="86.71" fill="#0000ff" />
<polygon points="321.7,799.5 326.7,804.5 321.7,809.5 316.7,804.5" fill="#5a9cf0"/>
<polygon points="321.7,807.19 326.7,812.19 321.7,817.19 316.7,812.19" fill="#5a9cf0"/>
<polygon points="321.7,878.95 326.7,883.95 321.7,888.95 316.7,883.95" fill="#5a9cf0"/>
<polygon points="321.7,902.39 326.7,907.39 321.7,912.39 316.7,907.39" fill="#5a9cf0"/>
<polygon points="321.7,940.04 326.7,945.04 321.7,950.04 316.7,945.04" fill="#5a9cf0"/>
<line x1="345.8" y1="885.78" x2="345.8" y2="902.26" stroke="#0000ff" stroke-width="3" stroke-linecap="butt"/>
<line x1="341.8" y1="885.78" x2="349.8" y2="885.78" stroke="#0000ff" stroke-width="2.9" stroke-linecap="butt"/>
<rect x="339.1" y="902.26" width="13.4" height="61.34" fill="#0000ff" />
<polygon points="345.8,826.79 350.8,831.79 345.8,836.79 340.8,831.79" fill="#5a9cf0"/>
<polygon points="345.8,883.64 350.8,888.64 345.8,893.64 340.8,888.64" fill="#5a9cf0"/>
<polygon points="345.8,891.83 350.8,896.83 345.8,901.83 340.8,896.83" fill="#5a9cf0"/>
<polygon points="345.8,921.29 350.8,926.29 345.8,931.29 340.8,926.29" fill="#5a9cf0"/>
<polygon points="345.8,930.67 350.8,935.67 345.8,940.67 340.8,935.67" fill="#5a9cf0"/>
<line x1="369.9" y1="885.78" x2="369.9" y2="905.12" stroke="#0000ff" stroke-width="3" stroke-linecap="butt"/>
<line x1="365.9" y1="885.78" x2="373.9" y2="885.78" stroke="#0000ff" stroke-width="2.9" stroke-linecap="butt"/>
<rect x="363.2" y="905.12" width="13.4" height="58.48" fill="#0000ff" />
<polygon points="369.9,813.12 374.9,818.12 369.9,823.12 364.9,818.12" fill="#5a9cf0"/>
<polygon points="369.9,878.95 374.9,883.95 369.9,888.95 364.9,883.95" fill="#5a9cf0"/>
<polygon points="369.9,914.68 374.9,919.68 369.9,924.68 364.9,919.68" fill="#5a9cf0"/>
<polygon points="369.9,922.38 374.9,927.38 369.9,932.38 364.9,927.38" fill="#5a9cf0"/>
<polygon points="369.9,929.48 374.9,934.48 369.9,939.48 364.9,934.48" fill="#5a9cf0"/>
<polygon points="369.9,941.92 374.9,946.92 369.9,951.92 364.9,946.92" fill="#5a9cf0"/>
<line x1="407.2" y1="794.63" x2="407.2" y2="815.3" stroke="#ff0000" stroke-width="3" stroke-linecap="butt"/>
<line x1="403.2" y1="794.63" x2="411.2" y2="794.63" stroke="#ff0000" stroke-width="2.9" stroke-linecap="butt"/>
<rect x="400.5" y="815.3" width="13.4" height="148.3" fill="#ff0000" />
<polygon points="407.2,744.91 412.2,749.91 407.2,754.91 402.2,749.91" fill="#ff9f9f"/>
<polygon points="407.2,780.64 412.2,785.64 407.2,790.64 402.2,785.64" fill="#ff9f9f"/>
<polygon points="407.2,799.45 412.2,804.45 407.2,809.45 402.2,804.45" fill="#ff9f9f"/>
<polygon points="407.2,854.92 412.2,859.92 407.2,864.92 402.2,859.92" fill="#ff9f9f"/>
<polygon points="407.2,881.76 412.2,886.76 407.2,891.76 402.2,886.76" fill="#ff9f9f"/>
<line x1="431.3" y1="800.45" x2="431.3" y2="819.3" stroke="#ff0000" stroke-width="3" stroke-linecap="butt"/>
<line x1="427.3" y1="800.45" x2="435.3" y2="800.45" stroke="#ff0000" stroke-width="2.9" stroke-linecap="butt"/>
<rect x="424.6" y="819.3" width="13.4" height="144.3" fill="#ff0000" />
<polygon points="431.3,771.96 436.3,776.96 431.3,781.96 426.3,776.96" fill="#ff9f9f"/>
<polygon points="431.3,776.65 436.3,781.65 431.3,786.65 426.3,781.65" fill="#ff9f9f"/>
<polygon points="431.3,780.64 436.3,785.64 431.3,790.64 426.3,785.64" fill="#ff9f9f"/>
<polygon points="431.3,818.99 436.3,823.99 431.3,828.99 426.3,823.99" fill="#ff9f9f"/>
<polygon points="431.3,865.97 436.3,870.97 431.3,875.97 426.3,870.97" fill="#ff9f9f"/>
<polygon points="431.3,869.47 436.3,874.47 431.3,879.47 426.3,874.47" fill="#ff9f9f"/>
<line x1="455.4" y1="839.24" x2="455.4" y2="857.3" stroke="#ff0000" stroke-width="3" stroke-linecap="butt"/>
<line x1="451.4" y1="839.24" x2="459.4" y2="839.24" stroke="#ff0000" stroke-width="2.9" stroke-linecap="butt"/>
<rect x="448.7" y="857.3" width="13.4" height="106.3" fill="#ff0000" />
<polygon points="455.4,778.57 460.4,783.57 455.4,788.57 450.4,783.57" fill="#ff9f9f"/>
<polygon points="455.4,833.05 460.4,838.05 455.4,843.05 450.4,838.05" fill="#ff9f9f"/>
<polygon points="455.4,847.81 460.4,852.81 455.4,857.81 450.4,852.81" fill="#ff9f9f"/>
<polygon points="455.4,872.98 460.4,877.98 455.4,882.98 450.4,877.98" fill="#ff9f9f"/>
<polygon points="455.4,881.96 460.4,886.96 455.4,891.96 450.4,886.96" fill="#ff9f9f"/>
<polygon points="455.4,897.7 460.4,902.7 455.4,907.7 450.4,902.7" fill="#ff9f9f"/>
<line x1="479.5" y1="876.89" x2="479.5" y2="889.23" stroke="#ff0000" stroke-width="3" stroke-linecap="butt"/>
<line x1="475.5" y1="876.89" x2="483.5" y2="876.89" stroke="#ff0000" stroke-width="2.9" stroke-linecap="butt"/>
<rect x="472.8" y="889.23" width="13.4" height="74.37" fill="#ff0000" />
<polygon points="479.5,832.36 484.5,837.36 479.5,842.36 474.5,837.36" fill="#ff9f9f"/>
<polygon points="479.5,876.58 484.5,881.58 479.5,886.58 474.5,881.58" fill="#ff9f9f"/>
<polygon points="479.5,898.15 484.5,903.15 479.5,908.15 474.5,903.15" fill="#ff9f9f"/>
<polygon points="479.5,911.32 484.5,916.32 479.5,921.32 474.5,916.32" fill="#ff9f9f"/>
<line x1="516.8" y1="857.99" x2="516.8" y2="884.34" stroke="#93621f" stroke-width="3" stroke-linecap="butt"/>
<line x1="512.8" y1="857.99" x2="520.8" y2="857.99" stroke="#93621f" stroke-width="2.9" stroke-linecap="butt"/>
<rect x="510.1" y="884.34" width="13.4" height="79.26" fill="#93621f" />
<polygon points="516.8,760.21 521.8,765.21 516.8,770.21 511.8,765.21" fill="#c8965a"/>
<polygon points="516.8,852.99 521.8,857.99 516.8,862.99 511.8,857.99" fill="#c8965a"/>
<polygon points="516.8,911.32 521.8,916.32 516.8,921.32 511.8,916.32" fill="#c8965a"/>
<polygon points="516.8,927.07 521.8,932.07 516.8,937.07 511.8,932.07" fill="#c8965a"/>
<line x1="540.9" y1="857.99" x2="540.9" y2="884.34" stroke="#93621f" stroke-width="3" stroke-linecap="butt"/>
<line x1="536.9" y1="857.99" x2="544.9" y2="857.99" stroke="#93621f" stroke-width="2.9" stroke-linecap="butt"/>
<rect x="534.2" y="884.34" width="13.4" height="79.26" fill="#93621f" />
<polygon points="540.9,760.21 545.9,765.21 540.9,770.21 535.9,765.21" fill="#c8965a"/>
<polygon points="540.9,852.99 545.9,857.99 540.9,862.99 535.9,857.99" fill="#c8965a"/>
<polygon points="540.9,906.63 545.9,911.63 540.9,916.63 535.9,911.63" fill="#c8965a"/>
<polygon points="540.9,914.19 545.9,919.19 540.9,924.19 535.9,919.19" fill="#c8965a"/>
<polygon points="540.9,925.49 545.9,930.49 540.9,935.49 535.9,930.49" fill="#c8965a"/>
<line x1="565" y1="924.96" x2="565" y2="939.57" stroke="#93621f" stroke-width="3" stroke-linecap="butt"/>
<line x1="561" y1="924.96" x2="569" y2="924.96" stroke="#93621f" stroke-width="2.9" stroke-linecap="butt"/>
<rect x="558.3" y="939.57" width="13.4" height="24.03" fill="#93621f" />
<polygon points="565,864.79 570,869.79 565,874.79 560,869.79" fill="#c8965a"/>
<polygon points="565,940.04 570,945.04 565,950.04 560,945.04" fill="#c8965a"/>
<polygon points="565,948.14 570,953.14 565,958.14 560,953.14" fill="#c8965a"/>
<polygon points="565,953.91 570,958.91 565,963.91 560,958.91" fill="#c8965a"/>
<line x1="589.1" y1="939.17" x2="589.1" y2="947.31" stroke="#93621f" stroke-width="3" stroke-linecap="butt"/>
<line x1="585.1" y1="939.17" x2="593.1" y2="939.17" stroke="#93621f" stroke-width="2.9" stroke-linecap="butt"/>
<rect x="582.4" y="947.31" width="13.4" height="16.29" fill="#93621f" />
<polygon points="589.1,904.22 594.1,909.22 589.1,914.22 584.1,909.22" fill="#c8965a"/>
<polygon points="589.1,940.04 594.1,945.04 589.1,950.04 584.1,945.04" fill="#c8965a"/>
<polygon points="589.1,948.14 594.1,953.14 589.1,958.14 584.1,953.14" fill="#c8965a"/>
<polygon points="589.1,953.91 594.1,958.91 589.1,963.91 584.1,958.91" fill="#c8965a"/>
<line x1="626.4" y1="808.2" x2="626.4" y2="843.24" stroke="#005a00" stroke-width="3" stroke-linecap="butt"/>
<line x1="622.4" y1="808.2" x2="630.4" y2="808.2" stroke="#005a00" stroke-width="2.9" stroke-linecap="butt"/>
<rect x="619.7" y="843.24" width="13.4" height="120.36" fill="#005a00" />
<polygon points="626.4,751.92 631.4,756.92 626.4,761.92 621.4,756.92" fill="#00c000"/>
<polygon points="626.4,830.98 631.4,835.98 626.4,840.98 621.4,835.98" fill="#00c000"/>
<polygon points="626.4,848.85 631.4,853.85 626.4,858.85 621.4,853.85" fill="#00c000"/>
<polygon points="626.4,919.56 631.4,924.56 626.4,929.56 621.4,924.56" fill="#00c000"/>
<line x1="650.5" y1="780.46" x2="650.5" y2="827.99" stroke="#005a00" stroke-width="3" stroke-linecap="butt"/>
<line x1="646.5" y1="780.46" x2="654.5" y2="780.46" stroke="#005a00" stroke-width="2.9" stroke-linecap="butt"/>
<rect x="643.8" y="827.99" width="13.4" height="135.61" fill="#005a00" />
<polygon points="650.5,689.35 655.5,694.35 650.5,699.35 645.5,694.35" fill="#00c000"/>
<polygon points="650.5,842.33 655.5,847.33 650.5,852.33 645.5,847.33" fill="#00c000"/>
<polygon points="650.5,848.85 655.5,853.85 650.5,858.85 645.5,853.85" fill="#00c000"/>
<polygon points="650.5,911.22 655.5,916.22 650.5,921.22 645.5,916.22" fill="#00c000"/>
<line x1="674.6" y1="822.26" x2="674.6" y2="854.54" stroke="#005a00" stroke-width="3" stroke-linecap="butt"/>
<line x1="670.6" y1="822.26" x2="678.6" y2="822.26" stroke="#005a00" stroke-width="2.9" stroke-linecap="butt"/>
<rect x="667.9" y="854.54" width="13.4" height="109.06" fill="#005a00" />
<polygon points="674.6,760.31 679.6,765.31 674.6,770.31 669.6,765.31" fill="#00c000"/>
<polygon points="674.6,860.2 679.6,865.2 674.6,870.2 669.6,865.2" fill="#00c000"/>
<polygon points="674.6,865.08 679.6,870.08 674.6,875.08 669.6,870.08" fill="#00c000"/>
<polygon points="674.6,909.99 679.6,914.99 674.6,919.99 669.6,914.99" fill="#00c000"/>
<line x1="698.7" y1="797.54" x2="698.7" y2="839.14" stroke="#005a00" stroke-width="3" stroke-linecap="butt"/>
<line x1="694.7" y1="797.54" x2="702.7" y2="797.54" stroke="#005a00" stroke-width="2.9" stroke-linecap="butt"/>
<rect x="692" y="839.14" width="13.4" height="124.46" fill="#005a00" />
<polygon points="698.7,713.82 703.7,718.82 698.7,723.82 693.7,718.82" fill="#00c000"/>
<polygon points="698.7,851.41 703.7,856.41 698.7,861.41 693.7,856.41" fill="#00c000"/>
<polygon points="698.7,866.71 703.7,871.71 698.7,876.71 693.7,871.71" fill="#00c000"/>
<polygon points="698.7,904.12 703.7,909.12 698.7,914.12 693.7,909.12" fill="#00c000"/>
<line x1="170.4" y1="666" x2="170.4" y2="966.6" stroke="#000" stroke-width="3" stroke-linecap="butt"/>
<line x1="161.4" y1="963.3" x2="719.5" y2="963.3" stroke="#000" stroke-width="2.8" stroke-linecap="butt"/>
<line x1="160.1" y1="963.6" x2="170.4" y2="963.6" stroke="#000" stroke-width="3" stroke-linecap="butt"/>
<text x="147.9" y="972" font-size="25.2" text-anchor="end">0</text>
<line x1="160.1" y1="864.9" x2="170.4" y2="864.9" stroke="#000" stroke-width="3" stroke-linecap="butt"/>
<text x="147.9" y="873.3" font-size="25.2" text-anchor="end">2000</text>
<line x1="160.1" y1="766.2" x2="170.4" y2="766.2" stroke="#000" stroke-width="3" stroke-linecap="butt"/>
<text x="147.9" y="774.6" font-size="25.2" text-anchor="end">4000</text>
<line x1="160.1" y1="667.5" x2="170.4" y2="667.5" stroke="#000" stroke-width="3" stroke-linecap="butt"/>
<text x="147.9" y="675.9" font-size="25.2" text-anchor="end">6000</text>
<text x="186.3" y="995.5" font-size="25.2" text-anchor="middle">–</text>
<text x="210.4" y="995.5" font-size="25.2" text-anchor="middle">0</text>
<text x="234.5" y="995.5" font-size="25.2" text-anchor="middle">1</text>
<text x="258.6" y="995.5" font-size="25.2" text-anchor="middle">5</text>
<polygon points="193.5,1019.8 193.5,1018.6 264.1,1001.3 264.1,1019.8" fill="#000"/>
<line x1="174" y1="1034.2" x2="270.8" y2="1034.2" stroke="#000" stroke-width="2.4" stroke-linecap="butt"/>
<text x="222.4" y="1067.5" font-size="25.2" text-anchor="middle">No TLR</text>
<text x="222.4" y="1098.6" font-size="25.2" text-anchor="middle">ligand</text>
<text x="296.4" y="995.5" font-size="25.2" text-anchor="middle">–</text>
<text x="320.5" y="995.5" font-size="25.2" text-anchor="middle">0</text>
<text x="344.6" y="995.5" font-size="25.2" text-anchor="middle">1</text>
<text x="368.7" y="995.5" font-size="25.2" text-anchor="middle">5</text>
<polygon points="303.8,1019.8 303.8,1018.6 374.4,1001.3 374.4,1019.8" fill="#000"/>
<line x1="282.3" y1="1034.2" x2="379.7" y2="1034.2" stroke="#000" stroke-width="2.4" stroke-linecap="butt"/>
<text x="331" y="1067.5" font-size="25.2" text-anchor="middle">CL264</text>
<text x="406.4" y="995.5" font-size="25.2" text-anchor="middle">–</text>
<text x="430.5" y="995.5" font-size="25.2" text-anchor="middle">0</text>
<text x="454.6" y="995.5" font-size="25.2" text-anchor="middle">1</text>
<text x="478.7" y="995.5" font-size="25.2" text-anchor="middle">5</text>
<polygon points="415.4,1019.8 415.4,1018.6 486.1,1001.3 486.1,1019.8" fill="#000"/>
<line x1="395.3" y1="1034.2" x2="492.2" y2="1034.2" stroke="#000" stroke-width="2.4" stroke-linecap="butt"/>
<text x="443.75" y="1067.5" font-size="25.2" text-anchor="middle">CL75</text>
<text x="516.8" y="995.5" font-size="25.2" text-anchor="middle">–</text>
<text x="540.9" y="995.5" font-size="25.2" text-anchor="middle">0</text>
<text x="565" y="995.5" font-size="25.2" text-anchor="middle">1</text>
<text x="589.1" y="995.5" font-size="25.2" text-anchor="middle">5</text>
<polygon points="525.7,1019.8 525.7,1018.6 596.4,1001.3 596.4,1019.8" fill="#000"/>
<line x1="507" y1="1034.2" x2="604.2" y2="1034.2" stroke="#000" stroke-width="2.4" stroke-linecap="butt"/>
<text x="555.6" y="1067.5" font-size="25.2" text-anchor="middle">pU/pLA</text>
<text x="626.4" y="995.5" font-size="25.2" text-anchor="middle">–</text>
<text x="650.5" y="995.5" font-size="25.2" text-anchor="middle">0</text>
<text x="674.6" y="995.5" font-size="25.2" text-anchor="middle">1</text>
<text x="698.7" y="995.5" font-size="25.2" text-anchor="middle">5</text>
<polygon points="634,1019.8 634,1018.6 705,1001.3 705,1019.8" fill="#000"/>
<line x1="620.6" y1="1034.2" x2="717.5" y2="1034.2" stroke="#000" stroke-width="2.4" stroke-linecap="butt"/>
<text x="669.05" y="1067.5" font-size="25.2" text-anchor="middle">FSL-1</text>
<text x="445.6" y="630.9" font-size="25" text-anchor="middle">CU-CPT9a</text>
<polyline points="187.2,680.3 187.2,669.3 617.5,669.3 617.5,680.3" stroke="#000" stroke-width="2.4" fill="none" stroke-linejoin="miter"/>
<text x="388.6" y="669.6" font-size="23" text-anchor="middle" letter-spacing="2.0">*</text>
<polyline points="187.2,699.5 187.2,688.5 512,688.5 512,699.5" stroke="#000" stroke-width="2.4" fill="none" stroke-linejoin="miter"/>
<text x="348.1" y="689.6" font-size="23" text-anchor="middle" letter-spacing="2.0">*</text>
<polyline points="187.2,720.2 187.2,709.2 401,709.2 401,720.2" stroke="#000" stroke-width="2.4" fill="none" stroke-linejoin="miter"/>
<text x="302.3" y="710.3" font-size="23" text-anchor="middle" letter-spacing="2.0">**</text>
<polyline points="408,720.2 408,709.2 475,709.2 475,720.2" stroke="#000" stroke-width="2.4" fill="none" stroke-linejoin="miter"/>
<text x="437.8" y="710.3" font-size="23" text-anchor="middle" letter-spacing="2.0">**</text>
<polyline points="514.6,720.2 514.6,709.2 585.6,709.2 585.6,720.2" stroke="#000" stroke-width="2.4" fill="none" stroke-linejoin="miter"/>
<text x="551.1" y="710.3" font-size="23" text-anchor="middle" letter-spacing="2.0">***</text>
<polyline points="187.2,741.7 187.2,730.7 297.4,730.7 297.4,741.7" stroke="#000" stroke-width="2.4" fill="none" stroke-linejoin="miter"/>
<text x="240" y="733.1" font-size="23" text-anchor="middle" letter-spacing="2.0">*</text>
<polyline points="408,741.7 408,730.7 455,730.7 455,741.7" stroke="#000" stroke-width="2.4" fill="none" stroke-linejoin="miter"/>
<text x="429.3" y="733.1" font-size="23" text-anchor="middle" letter-spacing="2.0">**</text>
<polyline points="514.6,741.7 514.6,730.7 562.3,730.7 562.3,741.7" stroke="#000" stroke-width="2.4" fill="none" stroke-linejoin="miter"/>
<text x="538.9" y="733.1" font-size="23" text-anchor="middle" letter-spacing="2.0">**</text>
<text transform="translate(67.1,817) rotate(-90)" font-size="24.8" text-anchor="middle">IL-6 (pg/ml)</text>
<text x="20.6" y="1022.8" font-size="24.9">Inhibitor (µM)</text>
<line x1="827.2" y1="951.26" x2="827.2" y2="953.24" stroke="#000000" stroke-width="3" stroke-linecap="butt"/>
<line x1="823.2" y1="951.26" x2="831.2" y2="951.26" stroke="#000000" stroke-width="2.9" stroke-linecap="butt"/>
<rect x="820.5" y="953.24" width="13.4" height="10.36" fill="#000000" />
<polygon points="827.2,932.25 832.2,937.25 827.2,942.25 822.2,937.25" fill="#808080"/>
<polygon points="827.2,944.73 832.2,949.73 827.2,954.73 822.2,949.73" fill="#808080"/>
<polygon points="827.2,948.73 832.2,953.73 827.2,958.73 822.2,953.73" fill="#808080"/>
<polygon points="827.2,951.2 832.2,956.2 827.2,961.2 822.2,956.2" fill="#808080"/>
<polygon points="827.2,953.67 832.2,958.67 827.2,963.67 822.2,958.67" fill="#808080"/>
<line x1="851.3" y1="943.86" x2="851.3" y2="950.42" stroke="#000000" stroke-width="3" stroke-linecap="butt"/>
<line x1="847.3" y1="943.86" x2="855.3" y2="943.86" stroke="#000000" stroke-width="2.9" stroke-linecap="butt"/>
<rect x="844.6" y="950.42" width="13.4" height="13.18" fill="#000000" />
<polygon points="851.3,914.19 856.3,919.19 851.3,924.19 846.3,919.19" fill="#808080"/>
<polygon points="851.3,946.26 856.3,951.26 851.3,956.26 846.3,951.26" fill="#808080"/>
<polygon points="851.3,948.73 856.3,953.73 851.3,958.73 846.3,953.73" fill="#808080"/>
<polygon points="851.3,951.2 856.3,956.2 851.3,961.2 846.3,956.2" fill="#808080"/>
<polygon points="851.3,953.67 856.3,958.67 851.3,963.67 846.3,958.67" fill="#808080"/>
<line x1="875.4" y1="948.8" x2="875.4" y2="951.51" stroke="#000000" stroke-width="3" stroke-linecap="butt"/>
<line x1="871.4" y1="948.8" x2="879.4" y2="948.8" stroke="#000000" stroke-width="2.9" stroke-linecap="butt"/>
<rect x="868.7" y="951.51" width="13.4" height="12.09" fill="#000000" />
<polygon points="875.4,925.49 880.4,930.49 875.4,935.49 870.4,930.49" fill="#808080"/>
<polygon points="875.4,935.75 880.4,940.75 875.4,945.75 870.4,940.75" fill="#808080"/>
<polygon points="875.4,942.31 880.4,947.31 875.4,952.31 870.4,947.31" fill="#808080"/>
<polygon points="875.4,948.73 880.4,953.73 875.4,958.73 870.4,953.73" fill="#808080"/>
<polygon points="875.4,951.2 880.4,956.2 875.4,961.2 870.4,956.2" fill="#808080"/>
<polygon points="875.4,953.67 880.4,958.67 875.4,963.67 870.4,958.67" fill="#808080"/>
<line x1="899.5" y1="948.8" x2="899.5" y2="952.55" stroke="#000000" stroke-width="3" stroke-linecap="butt"/>
<line x1="895.5" y1="948.8" x2="903.5" y2="948.8" stroke="#000000" stroke-width="2.9" stroke-linecap="butt"/>
<rect x="892.8" y="952.55" width="13.4" height="11.05" fill="#000000" />
<polygon points="899.5,922.87 904.5,927.87 899.5,932.87 894.5,927.87" fill="#808080"/>
<polygon points="899.5,941.82 904.5,946.82 899.5,951.82 894.5,946.82" fill="#808080"/>
<polygon points="899.5,948.73 904.5,953.73 899.5,958.73 894.5,953.73" fill="#808080"/>
<polygon points="899.5,951.2 904.5,956.2 899.5,961.2 894.5,956.2" fill="#808080"/>
<polygon points="899.5,953.67 904.5,958.67 899.5,963.67 894.5,958.67" fill="#808080"/>
<line x1="936.8" y1="860.41" x2="936.8" y2="882.27" stroke="#0000ff" stroke-width="3" stroke-linecap="butt"/>
<line x1="932.8" y1="860.41" x2="940.8" y2="860.41" stroke="#0000ff" stroke-width="2.9" stroke-linecap="butt"/>
<rect x="930.1" y="882.27" width="13.4" height="81.33" fill="#0000ff" />
<polygon points="936.8,807.93 941.8,812.93 936.8,817.93 931.8,812.93" fill="#5a9cf0"/>
<polygon points="936.8,823.68 941.8,828.68 936.8,833.68 931.8,828.68" fill="#5a9cf0"/>
<polygon points="936.8,870.66 941.8,875.66 936.8,880.66 931.8,875.66" fill="#5a9cf0"/>
<polygon points="936.8,910.68 941.8,915.68 936.8,920.68 931.8,915.68" fill="#5a9cf0"/>
<polygon points="936.8,937.63 941.8,942.63 936.8,947.63 931.8,942.63" fill="#5a9cf0"/>
<line x1="960.9" y1="853.35" x2="960.9" y2="876.89" stroke="#0000ff" stroke-width="3" stroke-linecap="butt"/>
<line x1="956.9" y1="853.35" x2="964.9" y2="853.35" stroke="#0000ff" stroke-width="2.9" stroke-linecap="butt"/>
<rect x="954.2" y="876.89" width="13.4" height="86.71" fill="#0000ff" />
<polygon points="960.9,799.5 965.9,804.5 960.9,809.5 955.9,804.5" fill="#5a9cf0"/>
<polygon points="960.9,807.19 965.9,812.19 960.9,817.19 955.9,812.19" fill="#5a9cf0"/>
<polygon points="960.9,878.95 965.9,883.95 960.9,888.95 955.9,883.95" fill="#5a9cf0"/>
<polygon points="960.9,902.39 965.9,907.39 960.9,912.39 955.9,907.39" fill="#5a9cf0"/>
<polygon points="960.9,940.04 965.9,945.04 960.9,950.04 955.9,945.04" fill="#5a9cf0"/>
<line x1="985" y1="872.6" x2="985" y2="895.65" stroke="#0000ff" stroke-width="3" stroke-linecap="butt"/>
<line x1="981" y1="872.6" x2="989" y2="872.6" stroke="#0000ff" stroke-width="2.9" stroke-linecap="butt"/>
<rect x="978.3" y="895.65" width="13.4" height="67.95" fill="#0000ff" />
<polygon points="985,790.07 990,795.07 985,800.07 980,795.07" fill="#5a9cf0"/>
<polygon points="985,864.29 990,869.29 985,874.29 980,869.29" fill="#5a9cf0"/>
<polygon points="985,909.4 990,914.4 985,919.4 980,914.4" fill="#5a9cf0"/>
<polygon points="985,916.5 990,921.5 985,926.5 980,921.5" fill="#5a9cf0"/>
<polygon points="985,944.73 990,949.73 985,954.73 980,949.73" fill="#5a9cf0"/>
<line x1="1009.1" y1="893.23" x2="1009.1" y2="912.13" stroke="#0000ff" stroke-width="3" stroke-linecap="butt"/>
<line x1="1005.1" y1="893.23" x2="1013.1" y2="893.23" stroke="#0000ff" stroke-width="2.9" stroke-linecap="butt"/>
<rect x="1002.4" y="912.13" width="13.4" height="51.47" fill="#0000ff" />
<polygon points="1009.1,825.55 1014.1,830.55 1009.1,835.55 1004.1,830.55" fill="#5a9cf0"/>
<polygon points="1009.1,881.76 1014.1,886.76 1009.1,891.76 1004.1,886.76" fill="#5a9cf0"/>
<polygon points="1009.1,922.38 1014.1,927.38 1009.1,932.38 1004.1,927.38" fill="#5a9cf0"/>
<polygon points="1009.1,930.57 1014.1,935.57 1009.1,940.57 1004.1,935.57" fill="#5a9cf0"/>
<polygon points="1009.1,934.86 1014.1,939.86 1009.1,944.86 1004.1,939.86" fill="#5a9cf0"/>
<polygon points="1009.1,945.82 1014.1,950.82 1009.1,955.82 1004.1,950.82" fill="#5a9cf0"/>
<line x1="1046.4" y1="794.63" x2="1046.4" y2="815.3" stroke="#ff0000" stroke-width="3" stroke-linecap="butt"/>
<line x1="1042.4" y1="794.63" x2="1050.4" y2="794.63" stroke="#ff0000" stroke-width="2.9" stroke-linecap="butt"/>
<rect x="1039.7" y="815.3" width="13.4" height="148.3" fill="#ff0000" />
<polygon points="1046.4,744.91 1051.4,749.91 1046.4,754.91 1041.4,749.91" fill="#ff9f9f"/>
<polygon points="1046.4,780.64 1051.4,785.64 1046.4,790.64 1041.4,785.64" fill="#ff9f9f"/>
<polygon points="1046.4,799.45 1051.4,804.45 1046.4,809.45 1041.4,804.45" fill="#ff9f9f"/>
<polygon points="1046.4,854.92 1051.4,859.92 1046.4,864.92 1041.4,859.92" fill="#ff9f9f"/>
<polygon points="1046.4,881.76 1051.4,886.76 1046.4,891.76 1041.4,886.76" fill="#ff9f9f"/>
<line x1="1070.5" y1="800.45" x2="1070.5" y2="819.5" stroke="#ff0000" stroke-width="3" stroke-linecap="butt"/>
<line x1="1066.5" y1="800.45" x2="1074.5" y2="800.45" stroke="#ff0000" stroke-width="2.9" stroke-linecap="butt"/>
<rect x="1063.8" y="819.5" width="13.4" height="144.1" fill="#ff0000" />
<polygon points="1070.5,771.96 1075.5,776.96 1070.5,781.96 1065.5,776.96" fill="#ff9f9f"/>
<polygon points="1070.5,776.65 1075.5,781.65 1070.5,786.65 1065.5,781.65" fill="#ff9f9f"/>
<polygon points="1070.5,780.64 1075.5,785.64 1070.5,790.64 1065.5,785.64" fill="#ff9f9f"/>
<polygon points="1070.5,818.99 1075.5,823.99 1070.5,828.99 1065.5,823.99" fill="#ff9f9f"/>
<polygon points="1070.5,865.97 1075.5,870.97 1070.5,875.97 1065.5,870.97" fill="#ff9f9f"/>
<polygon points="1070.5,869.47 1075.5,874.47 1070.5,879.47 1065.5,874.47" fill="#ff9f9f"/>
<line x1="1094.6" y1="863.22" x2="1094.6" y2="878.47" stroke="#ff0000" stroke-width="3" stroke-linecap="butt"/>
<line x1="1090.6" y1="863.22" x2="1098.6" y2="863.22" stroke="#ff0000" stroke-width="2.9" stroke-linecap="butt"/>
<rect x="1087.9" y="878.47" width="13.4" height="85.13" fill="#ff0000" />
<polygon points="1094.6,793.82 1099.6,798.82 1094.6,803.82 1089.6,798.82" fill="#ff9f9f"/>
<polygon points="1094.6,852.99 1099.6,857.99 1094.6,862.99 1089.6,857.99" fill="#ff9f9f"/>
<polygon points="1094.6,868.29 1099.6,873.29 1094.6,878.29 1089.6,873.29" fill="#ff9f9f"/>
<polygon points="1094.6,896.52 1099.6,901.52 1094.6,906.52 1089.6,901.52" fill="#ff9f9f"/>
<polygon points="1094.6,930.17 1099.6,935.17 1094.6,940.17 1089.6,935.17" fill="#ff9f9f"/>
<line x1="1118.7" y1="911.88" x2="1118.7" y2="919.68" stroke="#ff0000" stroke-width="3" stroke-linecap="butt"/>
<line x1="1114.7" y1="911.88" x2="1122.7" y2="911.88" stroke="#ff0000" stroke-width="2.9" stroke-linecap="butt"/>
<rect x="1112" y="919.68" width="13.4" height="43.92" fill="#ff0000" />
<polygon points="1118.7,889.02 1123.7,894.02 1118.7,899.02 1113.7,894.02" fill="#ff9f9f"/>
<polygon points="1118.7,897.11 1123.7,902.11 1118.7,907.11 1113.7,902.11" fill="#ff9f9f"/>
<polygon points="1118.7,914.19 1123.7,919.19 1118.7,924.19 1113.7,919.19" fill="#ff9f9f"/>
<polygon points="1118.7,919.12 1123.7,924.12 1118.7,929.12 1113.7,924.12" fill="#ff9f9f"/>
<polygon points="1118.7,924.06 1123.7,929.06 1118.7,934.06 1113.7,929.06" fill="#ff9f9f"/>
<polygon points="1118.7,931.46 1123.7,936.46 1118.7,941.46 1113.7,936.46" fill="#ff9f9f"/>
<line x1="1156" y1="858.19" x2="1156" y2="884.25" stroke="#93621f" stroke-width="3" stroke-linecap="butt"/>
<line x1="1152" y1="858.19" x2="1160" y2="858.19" stroke="#93621f" stroke-width="2.9" stroke-linecap="butt"/>
<rect x="1149.3" y="884.25" width="13.4" height="79.35" fill="#93621f" />
<polygon points="1156,760.41 1161,765.41 1156,770.41 1151,765.41" fill="#c8965a"/>
<polygon points="1156,853.19 1161,858.19 1156,863.19 1151,858.19" fill="#c8965a"/>
<polygon points="1156,911.77 1161,916.77 1156,921.77 1151,916.77" fill="#c8965a"/>
<polygon points="1156,927.76 1161,932.76 1156,937.76 1151,932.76" fill="#c8965a"/>
<line x1="1180.1" y1="858.19" x2="1180.1" y2="884.25" stroke="#93621f" stroke-width="3" stroke-linecap="butt"/>
<line x1="1176.1" y1="858.19" x2="1184.1" y2="858.19" stroke="#93621f" stroke-width="2.9" stroke-linecap="butt"/>
<rect x="1173.4" y="884.25" width="13.4" height="79.35" fill="#93621f" />
<polygon points="1180.1,760.41 1185.1,765.41 1180.1,770.41 1175.1,765.41" fill="#c8965a"/>
<polygon points="1180.1,853.19 1185.1,858.19 1180.1,863.19 1175.1,858.19" fill="#c8965a"/>
<polygon points="1180.1,906.78 1185.1,911.78 1180.1,916.78 1175.1,911.78" fill="#c8965a"/>
<polygon points="1180.1,914.19 1185.1,919.19 1180.1,924.19 1175.1,919.19" fill="#c8965a"/>
<polygon points="1180.1,922.08 1185.1,927.08 1180.1,932.08 1175.1,927.08" fill="#c8965a"/>
<polygon points="1180.1,925.49 1185.1,930.49 1180.1,935.49 1175.1,930.49" fill="#c8965a"/>
<line x1="1204.2" y1="910.3" x2="1204.2" y2="930.49" stroke="#93621f" stroke-width="3" stroke-linecap="butt"/>
<line x1="1200.2" y1="910.3" x2="1208.2" y2="910.3" stroke="#93621f" stroke-width="2.9" stroke-linecap="butt"/>
<rect x="1197.5" y="930.49" width="13.4" height="33.11" fill="#93621f" />
<polygon points="1204.2,826.14 1209.2,831.14 1204.2,836.14 1199.2,831.14" fill="#c8965a"/>
<polygon points="1204.2,933.53 1209.2,938.53 1204.2,943.53 1199.2,938.53" fill="#c8965a"/>
<polygon points="1204.2,941.72 1209.2,946.72 1204.2,951.72 1199.2,946.72" fill="#c8965a"/>
<polygon points="1204.2,949.82 1209.2,954.82 1204.2,959.82 1199.2,954.82" fill="#c8965a"/>
<line x1="1228.3" y1="944.11" x2="1228.3" y2="950.62" stroke="#93621f" stroke-width="3" stroke-linecap="butt"/>
<line x1="1224.3" y1="944.11" x2="1232.3" y2="944.11" stroke="#93621f" stroke-width="2.9" stroke-linecap="butt"/>
<rect x="1221.6" y="950.62" width="13.4" height="12.98" fill="#93621f" />
<polygon points="1228.3,917.98 1233.3,922.98 1228.3,927.98 1223.3,922.98" fill="#c8965a"/>
<polygon points="1228.3,946.26 1233.3,951.26 1228.3,956.26 1223.3,951.26" fill="#c8965a"/>
<polygon points="1228.3,951.2 1233.3,956.2 1228.3,961.2 1223.3,956.2" fill="#c8965a"/>
<polygon points="1228.3,953.91 1233.3,958.91 1228.3,963.91 1223.3,958.91" fill="#c8965a"/>
<line x1="1265.6" y1="808.39" x2="1265.6" y2="843.24" stroke="#005a00" stroke-width="3" stroke-linecap="butt"/>
<line x1="1261.6" y1="808.39" x2="1269.6" y2="808.39" stroke="#005a00" stroke-width="2.9" stroke-linecap="butt"/>
<rect x="1258.9" y="843.24" width="13.4" height="120.36" fill="#005a00" />
<polygon points="1265.6,751.92 1270.6,756.92 1265.6,761.92 1260.6,756.92" fill="#00c000"/>
<polygon points="1265.6,830.98 1270.6,835.98 1265.6,840.98 1260.6,835.98" fill="#00c000"/>
<polygon points="1265.6,848.85 1270.6,853.85 1265.6,858.85 1260.6,853.85" fill="#00c000"/>
<polygon points="1265.6,919.66 1270.6,924.66 1265.6,929.66 1260.6,924.66" fill="#00c000"/>
<line x1="1289.7" y1="780.66" x2="1289.7" y2="827.89" stroke="#005a00" stroke-width="3" stroke-linecap="butt"/>
<line x1="1285.7" y1="780.66" x2="1293.7" y2="780.66" stroke="#005a00" stroke-width="2.9" stroke-linecap="butt"/>
<rect x="1283" y="827.89" width="13.4" height="135.71" fill="#005a00" />
<polygon points="1289.7,688.85 1294.7,693.85 1289.7,698.85 1284.7,693.85" fill="#00c000"/>
<polygon points="1289.7,842.33 1294.7,847.33 1289.7,852.33 1284.7,847.33" fill="#00c000"/>
<polygon points="1289.7,848.85 1294.7,853.85 1289.7,858.85 1284.7,853.85" fill="#00c000"/>
<polygon points="1289.7,911.22 1294.7,916.22 1289.7,921.22 1284.7,916.22" fill="#00c000"/>
<line x1="1313.8" y1="822.36" x2="1313.8" y2="854.64" stroke="#005a00" stroke-width="3" stroke-linecap="butt"/>
<line x1="1309.8" y1="822.36" x2="1317.8" y2="822.36" stroke="#005a00" stroke-width="2.9" stroke-linecap="butt"/>
<rect x="1307.1" y="854.64" width="13.4" height="108.96" fill="#005a00" />
<polygon points="1313.8,760.31 1318.8,765.31 1313.8,770.31 1308.8,765.31" fill="#00c000"/>
<polygon points="1313.8,860.2 1318.8,865.2 1313.8,870.2 1308.8,865.2" fill="#00c000"/>
<polygon points="1313.8,865.08 1318.8,870.08 1313.8,875.08 1308.8,870.08" fill="#00c000"/>
<polygon points="1313.8,909.99 1318.8,914.99 1313.8,919.99 1308.8,914.99" fill="#00c000"/>
<line x1="1337.9" y1="797.64" x2="1337.9" y2="839.34" stroke="#005a00" stroke-width="3" stroke-linecap="butt"/>
<line x1="1333.9" y1="797.64" x2="1341.9" y2="797.64" stroke="#005a00" stroke-width="2.9" stroke-linecap="butt"/>
<rect x="1331.2" y="839.34" width="13.4" height="124.26" fill="#005a00" />
<polygon points="1337.9,713.82 1342.9,718.82 1337.9,723.82 1332.9,718.82" fill="#00c000"/>
<polygon points="1337.9,851.41 1342.9,856.41 1337.9,861.41 1332.9,856.41" fill="#00c000"/>
<polygon points="1337.9,866.71 1342.9,871.71 1337.9,876.71 1332.9,871.71" fill="#00c000"/>
<polygon points="1337.9,904.12 1342.9,909.12 1337.9,914.12 1332.9,909.12" fill="#00c000"/>
<line x1="809.7" y1="666" x2="809.7" y2="966.6" stroke="#000" stroke-width="3" stroke-linecap="butt"/>
<line x1="800.7" y1="963.3" x2="1357.6" y2="963.3" stroke="#000" stroke-width="2.8" stroke-linecap="butt"/>
<line x1="799.4" y1="963.6" x2="809.7" y2="963.6" stroke="#000" stroke-width="3" stroke-linecap="butt"/>
<text x="787.2" y="972" font-size="25.2" text-anchor="end">0</text>
<line x1="799.4" y1="864.9" x2="809.7" y2="864.9" stroke="#000" stroke-width="3" stroke-linecap="butt"/>
<text x="787.2" y="873.3" font-size="25.2" text-anchor="end">2000</text>
<line x1="799.4" y1="766.2" x2="809.7" y2="766.2" stroke="#000" stroke-width="3" stroke-linecap="butt"/>
<text x="787.2" y="774.6" font-size="25.2" text-anchor="end">4000</text>
<line x1="799.4" y1="667.5" x2="809.7" y2="667.5" stroke="#000" stroke-width="3" stroke-linecap="butt"/>
<text x="787.2" y="675.9" font-size="25.2" text-anchor="end">6000</text>
<text x="825.5" y="995.5" font-size="25.2" text-anchor="middle">–</text>
<text x="849.6" y="995.5" font-size="25.2" text-anchor="middle">0</text>
<text x="873.7" y="995.5" font-size="25.2" text-anchor="middle">1</text>
<text x="897.8" y="995.5" font-size="25.2" text-anchor="middle">5</text>
<polygon points="832.7,1019.8 832.7,1018.6 903.3,1001.3 903.3,1019.8" fill="#000"/>
<line x1="813.2" y1="1034.2" x2="910" y2="1034.2" stroke="#000" stroke-width="2.4" stroke-linecap="butt"/>
<text x="861.6" y="1067.5" font-size="25.2" text-anchor="middle">No TLR</text>
<text x="861.6" y="1098.6" font-size="25.2" text-anchor="middle">ligand</text>
<text x="935.6" y="995.5" font-size="25.2" text-anchor="middle">–</text>
<text x="959.7" y="995.5" font-size="25.2" text-anchor="middle">0</text>
<text x="983.8" y="995.5" font-size="25.2" text-anchor="middle">1</text>
<text x="1007.9" y="995.5" font-size="25.2" text-anchor="middle">5</text>
<polygon points="943,1019.8 943,1018.6 1013.6,1001.3 1013.6,1019.8" fill="#000"/>
<line x1="921.5" y1="1034.2" x2="1018.9" y2="1034.2" stroke="#000" stroke-width="2.4" stroke-linecap="butt"/>
<text x="970.2" y="1067.5" font-size="25.2" text-anchor="middle">CL264</text>
<text x="1045.6" y="995.5" font-size="25.2" text-anchor="middle">–</text>
<text x="1069.7" y="995.5" font-size="25.2" text-anchor="middle">0</text>
<text x="1093.8" y="995.5" font-size="25.2" text-anchor="middle">1</text>
<text x="1117.9" y="995.5" font-size="25.2" text-anchor="middle">5</text>
<polygon points="1054.6,1019.8 1054.6,1018.6 1125.3,1001.3 1125.3,1019.8" fill="#000"/>
<line x1="1034.5" y1="1034.2" x2="1131.4" y2="1034.2" stroke="#000" stroke-width="2.4" stroke-linecap="butt"/>
<text x="1082.95" y="1067.5" font-size="25.2" text-anchor="middle">CL75</text>
<text x="1156" y="995.5" font-size="25.2" text-anchor="middle">–</text>
<text x="1180.1" y="995.5" font-size="25.2" text-anchor="middle">0</text>
<text x="1204.2" y="995.5" font-size="25.2" text-anchor="middle">1</text>
<text x="1228.3" y="995.5" font-size="25.2" text-anchor="middle">5</text>
<polygon points="1164.9,1019.8 1164.9,1018.6 1235.6,1001.3 1235.6,1019.8" fill="#000"/>
<line x1="1146.2" y1="1034.2" x2="1243.4" y2="1034.2" stroke="#000" stroke-width="2.4" stroke-linecap="butt"/>
<text x="1194.8" y="1067.5" font-size="25.2" text-anchor="middle">pU/pLA</text>
<text x="1265.6" y="995.5" font-size="25.2" text-anchor="middle">–</text>
<text x="1289.7" y="995.5" font-size="25.2" text-anchor="middle">0</text>
<text x="1313.8" y="995.5" font-size="25.2" text-anchor="middle">1</text>
<text x="1337.9" y="995.5" font-size="25.2" text-anchor="middle">5</text>
<polygon points="1273.2,1019.8 1273.2,1018.6 1344.2,1001.3 1344.2,1019.8" fill="#000"/>
<line x1="1259.8" y1="1034.2" x2="1356.7" y2="1034.2" stroke="#000" stroke-width="2.4" stroke-linecap="butt"/>
<text x="1308.25" y="1067.5" font-size="25.2" text-anchor="middle">FSL-1</text>
<text x="1101.3" y="630.9" font-size="25" text-anchor="middle">CU-CPT9b</text>
<polyline points="825.6,681.5 825.6,670.5 1255.5,670.5 1255.5,681.5" stroke="#000" stroke-width="2.4" fill="none" stroke-linejoin="miter"/>
<text x="1026.2" y="671.5" font-size="23" text-anchor="middle" letter-spacing="2.0">*</text>
<polyline points="825.6,701.8 825.6,690.8 1151.1,690.8 1151.1,701.8" stroke="#000" stroke-width="2.4" fill="none" stroke-linejoin="miter"/>
<text x="988.1" y="691.6" font-size="23" text-anchor="middle" letter-spacing="2.0">*</text>
<polyline points="825.6,722.2 825.6,711.2 1043,711.2 1043,722.2" stroke="#000" stroke-width="2.4" fill="none" stroke-linejoin="miter"/>
<text x="940.7" y="712.6" font-size="23" text-anchor="middle" letter-spacing="2.0">**</text>
<polyline points="1047.2,722.2 1047.2,711.2 1117.8,711.2 1117.8,722.2" stroke="#000" stroke-width="2.4" fill="none" stroke-linejoin="miter"/>
<text x="1079.7" y="713" font-size="23" text-anchor="middle" letter-spacing="2.0">**</text>
<polyline points="1156,722.2 1156,711.2 1226.5,711.2 1226.5,722.2" stroke="#000" stroke-width="2.4" fill="none" stroke-linejoin="miter"/>
<text x="1187.3" y="712.5" font-size="23" text-anchor="middle" letter-spacing="2.0">**</text>
<polyline points="825.6,743.5 825.6,732.5 931.3,732.5 931.3,743.5" stroke="#000" stroke-width="2.4" fill="none" stroke-linejoin="miter"/>
<text x="879" y="734" font-size="23" text-anchor="middle" letter-spacing="2.0">*</text>
<polyline points="935.5,743.5 935.5,732.5 1007,732.5 1007,743.5" stroke="#000" stroke-width="2.4" fill="none" stroke-linejoin="miter"/>
<text x="972.1" y="735.7" font-size="23" text-anchor="middle" letter-spacing="2.0">*</text>
<polyline points="1047.2,743.5 1047.2,732.5 1095,732.5 1095,743.5" stroke="#000" stroke-width="2.4" fill="none" stroke-linejoin="miter"/>
<text x="1071.6" y="733.8" font-size="23" text-anchor="middle" letter-spacing="2.0">*</text>
<polyline points="1156,743.5 1156,732.5 1203.3,732.5 1203.3,743.5" stroke="#000" stroke-width="2.4" fill="none" stroke-linejoin="miter"/>
<text x="1183.4" y="734.2" font-size="23" text-anchor="middle" letter-spacing="2.0">*</text>
<line x1="1474" y1="951.26" x2="1474" y2="953.14" stroke="#000000" stroke-width="3" stroke-linecap="butt"/>
<line x1="1470" y1="951.26" x2="1478" y2="951.26" stroke="#000000" stroke-width="2.9" stroke-linecap="butt"/>
<rect x="1467.3" y="953.14" width="13.4" height="10.46" fill="#000000" />
<polygon points="1474,931.21 1479,936.21 1474,941.21 1469,936.21" fill="#808080"/>
<polygon points="1474,944.34 1479,949.34 1474,954.34 1469,949.34" fill="#808080"/>
<polygon points="1474,948.73 1479,953.73 1474,958.73 1469,953.73" fill="#808080"/>
<polygon points="1474,951.2 1479,956.2 1474,961.2 1469,956.2" fill="#808080"/>
<polygon points="1474,953.67 1479,958.67 1474,963.67 1469,958.67" fill="#808080"/>
<line x1="1498.1" y1="943.61" x2="1498.1" y2="950.82" stroke="#000000" stroke-width="3" stroke-linecap="butt"/>
<line x1="1494.1" y1="943.61" x2="1502.1" y2="943.61" stroke="#000000" stroke-width="2.9" stroke-linecap="butt"/>
<rect x="1491.4" y="950.82" width="13.4" height="12.78" fill="#000000" />
<polygon points="1498.1,913.44 1503.1,918.44 1498.1,923.44 1493.1,918.44" fill="#808080"/>
<polygon points="1498.1,946.26 1503.1,951.26 1498.1,956.26 1493.1,951.26" fill="#808080"/>
<polygon points="1498.1,948.73 1503.1,953.73 1498.1,958.73 1493.1,953.73" fill="#808080"/>
<polygon points="1498.1,951.2 1503.1,956.2 1498.1,961.2 1493.1,956.2" fill="#808080"/>
<polygon points="1498.1,953.67 1503.1,958.67 1498.1,963.67 1493.1,958.67" fill="#808080"/>
<line x1="1522.2" y1="947.81" x2="1522.2" y2="953.14" stroke="#000000" stroke-width="3" stroke-linecap="butt"/>
<line x1="1518.2" y1="947.81" x2="1526.2" y2="947.81" stroke="#000000" stroke-width="2.9" stroke-linecap="butt"/>
<rect x="1515.5" y="953.14" width="13.4" height="10.46" fill="#000000" />
<polygon points="1522.2,927.02 1527.2,932.02 1522.2,937.02 1517.2,932.02" fill="#808080"/>
<polygon points="1522.2,946.26 1527.2,951.26 1522.2,956.26 1517.2,951.26" fill="#808080"/>
<polygon points="1522.2,948.73 1527.2,953.73 1522.2,958.73 1517.2,953.73" fill="#808080"/>
<polygon points="1522.2,951.2 1527.2,956.2 1522.2,961.2 1517.2,956.2" fill="#808080"/>
<polygon points="1522.2,953.67 1527.2,958.67 1522.2,963.67 1517.2,958.67" fill="#808080"/>
<line x1="1546.3" y1="946.52" x2="1546.3" y2="952.3" stroke="#000000" stroke-width="3" stroke-linecap="butt"/>
<line x1="1542.3" y1="946.52" x2="1550.3" y2="946.52" stroke="#000000" stroke-width="2.9" stroke-linecap="butt"/>
<rect x="1539.6" y="952.3" width="13.4" height="11.3" fill="#000000" />
<polygon points="1546.3,924.15 1551.3,929.15 1546.3,934.15 1541.3,929.15" fill="#808080"/>
<polygon points="1546.3,946.26 1551.3,951.26 1546.3,956.26 1541.3,951.26" fill="#808080"/>
<polygon points="1546.3,948.73 1551.3,953.73 1546.3,958.73 1541.3,953.73" fill="#808080"/>
<polygon points="1546.3,951.2 1551.3,956.2 1546.3,961.2 1541.3,956.2" fill="#808080"/>
<polygon points="1546.3,953.67 1551.3,958.67 1546.3,963.67 1541.3,958.67" fill="#808080"/>
<line x1="1583.6" y1="860.11" x2="1583.6" y2="881.78" stroke="#0000ff" stroke-width="3" stroke-linecap="butt"/>
<line x1="1579.6" y1="860.11" x2="1587.6" y2="860.11" stroke="#0000ff" stroke-width="2.9" stroke-linecap="butt"/>
<rect x="1576.9" y="881.78" width="13.4" height="81.82" fill="#0000ff" />
<polygon points="1583.6,807.69 1588.6,812.69 1583.6,817.69 1578.6,812.69" fill="#5a9cf0"/>
<polygon points="1583.6,823.28 1588.6,828.28 1583.6,833.28 1578.6,828.28" fill="#5a9cf0"/>
<polygon points="1583.6,869.92 1588.6,874.92 1583.6,879.92 1578.6,874.92" fill="#5a9cf0"/>
<polygon points="1583.6,909.64 1588.6,914.64 1583.6,919.64 1578.6,914.64" fill="#5a9cf0"/>
<polygon points="1583.6,937.72 1588.6,942.72 1583.6,947.72 1578.6,942.72" fill="#5a9cf0"/>
<line x1="1607.7" y1="853.11" x2="1607.7" y2="876.35" stroke="#0000ff" stroke-width="3" stroke-linecap="butt"/>
<line x1="1603.7" y1="853.11" x2="1611.7" y2="853.11" stroke="#0000ff" stroke-width="2.9" stroke-linecap="butt"/>
<rect x="1601" y="876.35" width="13.4" height="87.25" fill="#0000ff" />
<polygon points="1607.7,798.95 1612.7,803.95 1607.7,808.95 1602.7,803.95" fill="#5a9cf0"/>
<polygon points="1607.7,806.75 1612.7,811.75 1607.7,816.75 1602.7,811.75" fill="#5a9cf0"/>
<polygon points="1607.7,878.65 1612.7,883.65 1607.7,888.65 1602.7,883.65" fill="#5a9cf0"/>
<polygon points="1607.7,902.34 1612.7,907.34 1607.7,912.34 1602.7,907.34" fill="#5a9cf0"/>
<polygon points="1607.7,939.4 1612.7,944.4 1607.7,949.4 1602.7,944.4" fill="#5a9cf0"/>
<line x1="1631.8" y1="863.42" x2="1631.8" y2="883.65" stroke="#0000ff" stroke-width="3" stroke-linecap="butt"/>
<line x1="1627.8" y1="863.42" x2="1635.8" y2="863.42" stroke="#0000ff" stroke-width="2.9" stroke-linecap="butt"/>
<rect x="1625.1" y="883.65" width="13.4" height="79.95" fill="#0000ff" />
<polygon points="1631.8,809.17 1636.8,814.17 1631.8,819.17 1626.8,814.17" fill="#5a9cf0"/>
<polygon points="1631.8,845.05 1636.8,850.05 1631.8,855.05 1626.8,850.05" fill="#5a9cf0"/>
<polygon points="1631.8,863.31 1636.8,868.31 1631.8,873.31 1626.8,868.31" fill="#5a9cf0"/>
<polygon points="1631.8,906.83 1636.8,911.83 1631.8,916.83 1626.8,911.83" fill="#5a9cf0"/>
<polygon points="1631.8,909.25 1636.8,914.25 1631.8,919.25 1626.8,914.25" fill="#5a9cf0"/>
<polygon points="1631.8,934.81 1636.8,939.81 1631.8,944.81 1626.8,939.81" fill="#5a9cf0"/>
<line x1="1655.9" y1="862.48" x2="1655.9" y2="884.79" stroke="#0000ff" stroke-width="3" stroke-linecap="butt"/>
<line x1="1651.9" y1="862.48" x2="1659.9" y2="862.48" stroke="#0000ff" stroke-width="2.9" stroke-linecap="butt"/>
<rect x="1649.2" y="884.79" width="13.4" height="78.81" fill="#0000ff" />
<polygon points="1655.9,790.27 1660.9,795.27 1655.9,800.27 1650.9,795.27" fill="#5a9cf0"/>
<polygon points="1655.9,851.71 1660.9,856.71 1655.9,861.71 1650.9,856.71" fill="#5a9cf0"/>
<polygon points="1655.9,874.26 1660.9,879.26 1655.9,884.26 1650.9,879.26" fill="#5a9cf0"/>
<polygon points="1655.9,906.14 1660.9,911.14 1655.9,916.14 1650.9,911.14" fill="#5a9cf0"/>
<polygon points="1655.9,913.44 1660.9,918.44 1655.9,923.44 1650.9,918.44" fill="#5a9cf0"/>
<polygon points="1655.9,940 1660.9,945 1655.9,950 1650.9,945" fill="#5a9cf0"/>
<line x1="1693.2" y1="793.89" x2="1693.2" y2="814.66" stroke="#ff0000" stroke-width="3" stroke-linecap="butt"/>
<line x1="1689.2" y1="793.89" x2="1697.2" y2="793.89" stroke="#ff0000" stroke-width="2.9" stroke-linecap="butt"/>
<rect x="1686.5" y="814.66" width="13.4" height="148.94" fill="#ff0000" />
<polygon points="1693.2,744.03 1698.2,749.03 1693.2,754.03 1688.2,749.03" fill="#ff9f9f"/>
<polygon points="1693.2,780.05 1698.2,785.05 1693.2,790.05 1688.2,785.05" fill="#ff9f9f"/>
<polygon points="1693.2,799.25 1698.2,804.25 1693.2,809.25 1688.2,804.25" fill="#ff9f9f"/>
<polygon points="1693.2,853.58 1698.2,858.58 1693.2,863.58 1688.2,858.58" fill="#ff9f9f"/>
<polygon points="1693.2,881.37 1698.2,886.37 1693.2,891.37 1688.2,886.37" fill="#ff9f9f"/>
<line x1="1717.3" y1="799.86" x2="1717.3" y2="819.05" stroke="#ff0000" stroke-width="3" stroke-linecap="butt"/>
<line x1="1713.3" y1="799.86" x2="1721.3" y2="799.86" stroke="#ff0000" stroke-width="2.9" stroke-linecap="butt"/>
<rect x="1710.6" y="819.05" width="13.4" height="144.55" fill="#ff0000" />
<polygon points="1717.3,769.59 1722.3,774.59 1717.3,779.59 1712.3,774.59" fill="#ff9f9f"/>
<polygon points="1717.3,775.07 1722.3,780.07 1717.3,785.07 1712.3,780.07" fill="#ff9f9f"/>
<polygon points="1717.3,780.05 1722.3,785.05 1717.3,790.05 1712.3,785.05" fill="#ff9f9f"/>
<polygon points="1717.3,818.1 1722.3,823.1 1717.3,828.1 1712.3,823.1" fill="#ff9f9f"/>
<polygon points="1717.3,864.34 1722.3,869.34 1717.3,874.34 1712.3,869.34" fill="#ff9f9f"/>
<polygon points="1717.3,868.73 1722.3,873.73 1717.3,878.73 1712.3,873.73" fill="#ff9f9f"/>
<line x1="1741.4" y1="805.73" x2="1741.4" y2="822.71" stroke="#ff0000" stroke-width="3" stroke-linecap="butt"/>
<line x1="1737.4" y1="805.73" x2="1745.4" y2="805.73" stroke="#ff0000" stroke-width="2.9" stroke-linecap="butt"/>
<rect x="1734.7" y="822.71" width="13.4" height="140.89" fill="#ff0000" />
<polygon points="1741.4,746.3 1746.4,751.3 1741.4,756.3 1736.4,751.3" fill="#ff9f9f"/>
<polygon points="1741.4,800.73 1746.4,805.73 1741.4,810.73 1736.4,805.73" fill="#ff9f9f"/>
<polygon points="1741.4,812.33 1746.4,817.33 1741.4,822.33 1736.4,817.33" fill="#ff9f9f"/>
<polygon points="1741.4,825.7 1746.4,830.7 1741.4,835.7 1736.4,830.7" fill="#ff9f9f"/>
<polygon points="1741.4,849.59 1746.4,854.59 1741.4,859.59 1736.4,854.59" fill="#ff9f9f"/>
<polygon points="1741.4,868.34 1746.4,873.34 1741.4,878.34 1736.4,873.34" fill="#ff9f9f"/>
<line x1="1765.5" y1="790.09" x2="1765.5" y2="813.63" stroke="#ff0000" stroke-width="3" stroke-linecap="butt"/>
<line x1="1761.5" y1="790.09" x2="1769.5" y2="790.09" stroke="#ff0000" stroke-width="2.9" stroke-linecap="butt"/>
<rect x="1758.8" y="813.63" width="13.4" height="149.97" fill="#ff0000" />
<polygon points="1765.5,703.76 1770.5,708.76 1765.5,713.76 1760.5,708.76" fill="#ff9f9f"/>
<polygon points="1765.5,795.75 1770.5,800.75 1765.5,805.75 1760.5,800.75" fill="#ff9f9f"/>
<polygon points="1765.5,803.05 1770.5,808.05 1765.5,813.05 1760.5,808.05" fill="#ff9f9f"/>
<polygon points="1765.5,830.83 1770.5,835.83 1765.5,840.83 1760.5,835.83" fill="#ff9f9f"/>
<polygon points="1765.5,850.42 1770.5,855.42 1765.5,860.42 1760.5,855.42" fill="#ff9f9f"/>
<polygon points="1765.5,866.32 1770.5,871.32 1765.5,876.32 1760.5,871.32" fill="#ff9f9f"/>
<line x1="1802.8" y1="857.99" x2="1802.8" y2="884.39" stroke="#93621f" stroke-width="3" stroke-linecap="butt"/>
<line x1="1798.8" y1="857.99" x2="1806.8" y2="857.99" stroke="#93621f" stroke-width="2.9" stroke-linecap="butt"/>
<rect x="1796.1" y="884.39" width="13.4" height="79.21" fill="#93621f" />
<polygon points="1802.8,760.31 1807.8,765.31 1802.8,770.31 1797.8,765.31" fill="#c8965a"/>
<polygon points="1802.8,852.99 1807.8,857.99 1802.8,862.99 1797.8,857.99" fill="#c8965a"/>
<polygon points="1802.8,910.73 1807.8,915.73 1802.8,920.73 1797.8,915.73" fill="#c8965a"/>
<polygon points="1802.8,927.07 1807.8,932.07 1802.8,937.07 1797.8,932.07" fill="#c8965a"/>
<line x1="1826.9" y1="857.99" x2="1826.9" y2="884.39" stroke="#93621f" stroke-width="3" stroke-linecap="butt"/>
<line x1="1822.9" y1="857.99" x2="1830.9" y2="857.99" stroke="#93621f" stroke-width="2.9" stroke-linecap="butt"/>
<rect x="1820.2" y="884.39" width="13.4" height="79.21" fill="#93621f" />
<polygon points="1826.9,760.31 1831.9,765.31 1826.9,770.31 1821.9,765.31" fill="#c8965a"/>
<polygon points="1826.9,852.99 1831.9,857.99 1826.9,862.99 1821.9,857.99" fill="#c8965a"/>
<polygon points="1826.9,906.78 1831.9,911.78 1826.9,916.78 1821.9,911.78" fill="#c8965a"/>
<polygon points="1826.9,914.19 1831.9,919.19 1826.9,924.19 1821.9,919.19" fill="#c8965a"/>
<polygon points="1826.9,924.06 1831.9,929.06 1826.9,934.06 1821.9,929.06" fill="#c8965a"/>
<line x1="1851" y1="855.33" x2="1851" y2="884.39" stroke="#93621f" stroke-width="3" stroke-linecap="butt"/>
<line x1="1847" y1="855.33" x2="1855" y2="855.33" stroke="#93621f" stroke-width="2.9" stroke-linecap="butt"/>
<rect x="1844.3" y="884.39" width="13.4" height="79.21" fill="#93621f" />
<polygon points="1851,753.4 1856,758.4 1851,763.4 1846,758.4" fill="#c8965a"/>
<polygon points="1851,846.03 1856,851.03 1851,856.03 1846,851.03" fill="#c8965a"/>
<polygon points="1851,906.78 1856,911.78 1851,916.78 1846,911.78" fill="#c8965a"/>
<polygon points="1851,919.12 1856,924.12 1851,929.12 1846,924.12" fill="#c8965a"/>
<polygon points="1851,928.99 1856,933.99 1851,938.99 1846,933.99" fill="#c8965a"/>
<line x1="1875.1" y1="851.72" x2="1875.1" y2="880.79" stroke="#93621f" stroke-width="3" stroke-linecap="butt"/>
<line x1="1871.1" y1="851.72" x2="1879.1" y2="851.72" stroke="#93621f" stroke-width="2.9" stroke-linecap="butt"/>
<rect x="1868.4" y="880.79" width="13.4" height="82.81" fill="#93621f" />
<polygon points="1875.1,748.02 1880.1,753.02 1875.1,758.02 1870.1,753.02" fill="#c8965a"/>
<polygon points="1875.1,843.12 1880.1,848.12 1875.1,853.12 1870.1,848.12" fill="#c8965a"/>
<polygon points="1875.1,904.32 1880.1,909.32 1875.1,914.32 1870.1,909.32" fill="#c8965a"/>
<polygon points="1875.1,914.19 1880.1,919.19 1875.1,924.19 1870.1,919.19" fill="#c8965a"/>
<polygon points="1875.1,924.06 1880.1,929.06 1875.1,934.06 1870.1,929.06" fill="#c8965a"/>
<line x1="1912.4" y1="807.9" x2="1912.4" y2="843.04" stroke="#005a00" stroke-width="3" stroke-linecap="butt"/>
<line x1="1908.4" y1="807.9" x2="1916.4" y2="807.9" stroke="#005a00" stroke-width="2.9" stroke-linecap="butt"/>
<rect x="1905.7" y="843.04" width="13.4" height="120.56" fill="#005a00" />
<polygon points="1912.4,751.92 1917.4,756.92 1912.4,761.92 1907.4,756.92" fill="#00c000"/>
<polygon points="1912.4,830.83 1917.4,835.83 1912.4,840.83 1907.4,835.83" fill="#00c000"/>
<polygon points="1912.4,847.51 1917.4,852.51 1912.4,857.51 1907.4,852.51" fill="#00c000"/>
<polygon points="1912.4,919.22 1917.4,924.22 1912.4,929.22 1907.4,924.22" fill="#00c000"/>
<line x1="1936.5" y1="780.36" x2="1936.5" y2="827.89" stroke="#005a00" stroke-width="3" stroke-linecap="butt"/>
<line x1="1932.5" y1="780.36" x2="1940.5" y2="780.36" stroke="#005a00" stroke-width="2.9" stroke-linecap="butt"/>
<rect x="1929.8" y="827.89" width="13.4" height="135.71" fill="#005a00" />
<polygon points="1936.5,688.56 1941.5,693.56 1936.5,698.56 1931.5,693.56" fill="#00c000"/>
<polygon points="1936.5,841.34 1941.5,846.34 1936.5,851.34 1931.5,846.34" fill="#00c000"/>
<polygon points="1936.5,847.51 1941.5,852.51 1936.5,857.51 1931.5,852.51" fill="#00c000"/>
<polygon points="1936.5,910.73 1941.5,915.73 1936.5,920.73 1931.5,915.73" fill="#00c000"/>
<line x1="1960.6" y1="824.93" x2="1960.6" y2="854.59" stroke="#005a00" stroke-width="3" stroke-linecap="butt"/>
<line x1="1956.6" y1="824.93" x2="1964.6" y2="824.93" stroke="#005a00" stroke-width="2.9" stroke-linecap="butt"/>
<rect x="1953.9" y="854.59" width="13.4" height="109.01" fill="#005a00" />
<polygon points="1960.6,773.29 1965.6,778.29 1960.6,783.29 1955.6,778.29" fill="#00c000"/>
<polygon points="1960.6,844.95 1965.6,849.95 1960.6,854.95 1955.6,849.95" fill="#00c000"/>
<polygon points="1960.6,862.32 1965.6,867.32 1960.6,872.32 1955.6,867.32" fill="#00c000"/>
<polygon points="1960.6,916.31 1965.6,921.31 1960.6,926.31 1955.6,921.31" fill="#00c000"/>
<line x1="1984.7" y1="828.58" x2="1984.7" y2="858.19" stroke="#005a00" stroke-width="3" stroke-linecap="butt"/>
<line x1="1980.7" y1="828.58" x2="1988.7" y2="828.58" stroke="#005a00" stroke-width="2.9" stroke-linecap="butt"/>
<rect x="1978" y="858.19" width="13.4" height="105.41" fill="#005a00" />
<polygon points="1984.7,771.51 1989.7,776.51 1984.7,781.51 1979.7,776.51" fill="#00c000"/>
<polygon points="1984.7,863.11 1989.7,868.11 1984.7,873.11 1979.7,868.11" fill="#00c000"/>
<polygon points="1984.7,865.33 1989.7,870.33 1984.7,875.33 1979.7,870.33" fill="#00c000"/>
<polygon points="1984.7,911.91 1989.7,916.91 1984.7,921.91 1979.7,916.91" fill="#00c000"/>
<line x1="1457.3" y1="666" x2="1457.3" y2="966.6" stroke="#000" stroke-width="3" stroke-linecap="butt"/>
<line x1="1448.3" y1="963.3" x2="2006" y2="963.3" stroke="#000" stroke-width="2.8" stroke-linecap="butt"/>
<line x1="1447" y1="963.6" x2="1457.3" y2="963.6" stroke="#000" stroke-width="3" stroke-linecap="butt"/>
<text x="1434.8" y="972" font-size="25.2" text-anchor="end">0</text>
<line x1="1447" y1="864.9" x2="1457.3" y2="864.9" stroke="#000" stroke-width="3" stroke-linecap="butt"/>
<text x="1434.8" y="873.3" font-size="25.2" text-anchor="end">2000</text>
<line x1="1447" y1="766.2" x2="1457.3" y2="766.2" stroke="#000" stroke-width="3" stroke-linecap="butt"/>
<text x="1434.8" y="774.6" font-size="25.2" text-anchor="end">4000</text>
<line x1="1447" y1="667.5" x2="1457.3" y2="667.5" stroke="#000" stroke-width="3" stroke-linecap="butt"/>
<text x="1434.8" y="675.9" font-size="25.2" text-anchor="end">6000</text>
<text x="1472.3" y="995.5" font-size="25.2" text-anchor="middle">–</text>
<text x="1496.4" y="995.5" font-size="25.2" text-anchor="middle">0</text>
<text x="1520.5" y="995.5" font-size="25.2" text-anchor="middle">1</text>
<text x="1544.6" y="995.5" font-size="25.2" text-anchor="middle">5</text>
<polygon points="1479.5,1019.8 1479.5,1018.6 1550.1,1001.3 1550.1,1019.8" fill="#000"/>
<line x1="1460" y1="1034.2" x2="1556.8" y2="1034.2" stroke="#000" stroke-width="2.4" stroke-linecap="butt"/>
<text x="1508.4" y="1067.5" font-size="25.2" text-anchor="middle">No TLR</text>
<text x="1508.4" y="1098.6" font-size="25.2" text-anchor="middle">ligand</text>
<text x="1582.4" y="995.5" font-size="25.2" text-anchor="middle">–</text>
<text x="1606.5" y="995.5" font-size="25.2" text-anchor="middle">0</text>
<text x="1630.6" y="995.5" font-size="25.2" text-anchor="middle">1</text>
<text x="1654.7" y="995.5" font-size="25.2" text-anchor="middle">5</text>
<polygon points="1589.8,1019.8 1589.8,1018.6 1660.4,1001.3 1660.4,1019.8" fill="#000"/>
<line x1="1568.3" y1="1034.2" x2="1665.7" y2="1034.2" stroke="#000" stroke-width="2.4" stroke-linecap="butt"/>
<text x="1617" y="1067.5" font-size="25.2" text-anchor="middle">CL264</text>
<text x="1692.4" y="995.5" font-size="25.2" text-anchor="middle">–</text>
<text x="1716.5" y="995.5" font-size="25.2" text-anchor="middle">0</text>
<text x="1740.6" y="995.5" font-size="25.2" text-anchor="middle">1</text>
<text x="1764.7" y="995.5" font-size="25.2" text-anchor="middle">5</text>
<polygon points="1701.4,1019.8 1701.4,1018.6 1772.1,1001.3 1772.1,1019.8" fill="#000"/>
<line x1="1681.3" y1="1034.2" x2="1778.2" y2="1034.2" stroke="#000" stroke-width="2.4" stroke-linecap="butt"/>
<text x="1729.75" y="1067.5" font-size="25.2" text-anchor="middle">CL75</text>
<text x="1802.8" y="995.5" font-size="25.2" text-anchor="middle">–</text>
<text x="1826.9" y="995.5" font-size="25.2" text-anchor="middle">0</text>
<text x="1851" y="995.5" font-size="25.2" text-anchor="middle">1</text>
<text x="1875.1" y="995.5" font-size="25.2" text-anchor="middle">5</text>
<polygon points="1811.7,1019.8 1811.7,1018.6 1882.4,1001.3 1882.4,1019.8" fill="#000"/>
<line x1="1793" y1="1034.2" x2="1890.2" y2="1034.2" stroke="#000" stroke-width="2.4" stroke-linecap="butt"/>
<text x="1841.6" y="1067.5" font-size="25.2" text-anchor="middle">pU/pLA</text>
<text x="1912.4" y="995.5" font-size="25.2" text-anchor="middle">–</text>
<text x="1936.5" y="995.5" font-size="25.2" text-anchor="middle">0</text>
<text x="1960.6" y="995.5" font-size="25.2" text-anchor="middle">1</text>
<text x="1984.7" y="995.5" font-size="25.2" text-anchor="middle">5</text>
<polygon points="1920,1019.8 1920,1018.6 1991,1001.3 1991,1019.8" fill="#000"/>
<line x1="1906.6" y1="1034.2" x2="2003.5" y2="1034.2" stroke="#000" stroke-width="2.4" stroke-linecap="butt"/>
<text x="1955.05" y="1067.5" font-size="25.2" text-anchor="middle">FSL-1</text>
<text x="1736.4" y="630.9" font-size="25" text-anchor="middle">CU-CPT6</text>
<polyline points="1476.8,681.1 1476.8,670.1 1907.5,670.1 1907.5,681.1" stroke="#000" stroke-width="2.4" fill="none" stroke-linejoin="miter"/>
<text x="1678" y="671.8" font-size="23" text-anchor="middle" letter-spacing="2.0">*</text>
<polyline points="1476.8,701.6 1476.8,690.6 1802.1,690.6 1802.1,701.6" stroke="#000" stroke-width="2.4" fill="none" stroke-linejoin="miter"/>
<text x="1637.8" y="693.5" font-size="23" text-anchor="middle" letter-spacing="2.0">*</text>
<polyline points="1476.8,721.6 1476.8,710.6 1691,710.6 1691,721.6" stroke="#000" stroke-width="2.4" fill="none" stroke-linejoin="miter"/>
<text x="1591.9" y="712.5" font-size="23" text-anchor="middle" letter-spacing="2.0">**</text>
<polyline points="1476.8,743.5 1476.8,732.5 1587.3,732.5 1587.3,743.5" stroke="#000" stroke-width="2.4" fill="none" stroke-linejoin="miter"/>
<text x="1529.4" y="731.2" font-size="23" text-anchor="middle" letter-spacing="2.0">*</text></svg>
</body></html>
